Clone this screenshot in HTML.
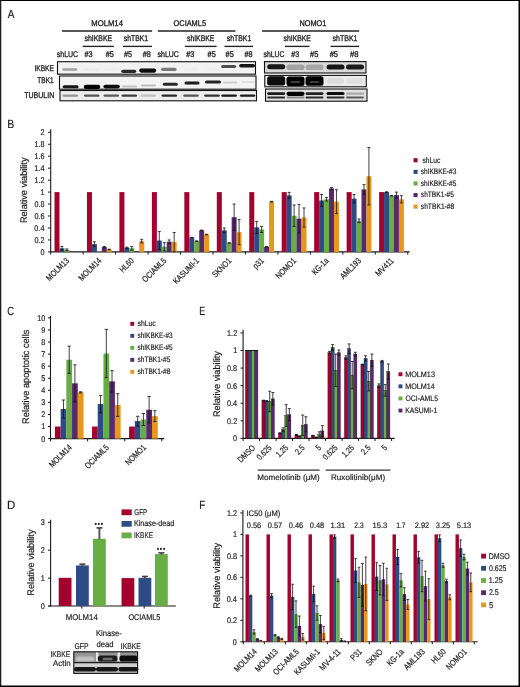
<!DOCTYPE html><html><head><meta charset="utf-8"><style>html,body{margin:0;padding:0;background:#fff;}svg{display:block;will-change:transform;}text{text-rendering:geometricPrecision;font-family:"Liberation Sans",sans-serif;fill:#1a1a1a;stroke:#222;stroke-width:0.18px;}.bA text{stroke-width:0.32px;}</style></head><body>
<svg width="520" height="687" viewBox="0 0 520 687">
<defs><filter id="bl1" x="-50%" y="-50%" width="200%" height="200%"><feGaussianBlur stdDeviation="0.9"/></filter><filter id="bl2" x="-50%" y="-50%" width="200%" height="200%"><feGaussianBlur stdDeviation="1.3"/></filter><filter id="bl05" x="-50%" y="-50%" width="200%" height="200%"><feGaussianBlur stdDeviation="0.5"/></filter><filter id="bl07" x="-50%" y="-50%" width="200%" height="200%"><feGaussianBlur stdDeviation="0.7"/></filter></defs>
<rect x="0" y="0" width="520" height="687" fill="#fff"/>
<text x="7.68" y="17.5" font-size="11.8" textLength="6.64" lengthAdjust="spacingAndGlyphs">A</text>
<text x="7.14" y="127.9" font-size="11.8" textLength="7.02" lengthAdjust="spacingAndGlyphs">B</text>
<text x="7.32" y="315" font-size="11.8" textLength="6.84" lengthAdjust="spacingAndGlyphs">C</text>
<text x="199.27" y="315.1" font-size="11.8" textLength="5.91" lengthAdjust="spacingAndGlyphs">E</text>
<text x="7.06" y="508.8" font-size="11.8" textLength="8.29" lengthAdjust="spacingAndGlyphs">D</text>
<text x="199.19" y="508.8" font-size="11.8" textLength="6" lengthAdjust="spacingAndGlyphs">F</text>
<g class="bA">
<text x="91.27" y="25.7" font-size="8.3" textLength="31.66" lengthAdjust="spacingAndGlyphs">MOLM14</text>
<text x="173.55" y="25.7" font-size="8.3" textLength="32.46" lengthAdjust="spacingAndGlyphs">OCIAML5</text>
<text x="299.4" y="26" font-size="8.3" textLength="26.96" lengthAdjust="spacingAndGlyphs">NOMO1</text>
<line x1="61.9" y1="31" x2="152.1" y2="31" stroke="#222" stroke-width="1.35"/>
<line x1="157.8" y1="31" x2="235.4" y2="31" stroke="#222" stroke-width="1.35"/>
<line x1="262" y1="31" x2="359.2" y2="31" stroke="#222" stroke-width="1.35"/>
<text x="84.41" y="41.2" font-size="8.3" textLength="27.79" lengthAdjust="spacingAndGlyphs">shIKBKE</text>
<text x="123.81" y="41.2" font-size="8.3" textLength="24.22" lengthAdjust="spacingAndGlyphs">shTBK1</text>
<text x="187.01" y="41.2" font-size="8.3" textLength="27.38" lengthAdjust="spacingAndGlyphs">shIKBKE</text>
<text x="226.71" y="41.2" font-size="8.3" textLength="24.63" lengthAdjust="spacingAndGlyphs">shTBK1</text>
<text x="283.61" y="41.2" font-size="8.3" textLength="27.28" lengthAdjust="spacingAndGlyphs">shIKBKE</text>
<text x="332.61" y="41.2" font-size="8.3" textLength="24.84" lengthAdjust="spacingAndGlyphs">shTBK1</text>
<line x1="82.7" y1="46.4" x2="113.8" y2="46.4" stroke="#222" stroke-width="1.35"/>
<line x1="123" y1="46.4" x2="152" y2="46.4" stroke="#222" stroke-width="1.35"/>
<line x1="185.1" y1="46.4" x2="216.6" y2="46.4" stroke="#222" stroke-width="1.35"/>
<line x1="224.4" y1="46.4" x2="253" y2="46.4" stroke="#222" stroke-width="1.35"/>
<line x1="285" y1="46.4" x2="309.5" y2="46.4" stroke="#222" stroke-width="1.35"/>
<line x1="330.5" y1="46.4" x2="359.2" y2="46.4" stroke="#222" stroke-width="1.35"/>
<text x="56.81" y="56.8" font-size="8.3" textLength="21.36" lengthAdjust="spacingAndGlyphs">shLUC</text>
<text x="84.57" y="56.8" font-size="8.3" textLength="8.05" lengthAdjust="spacingAndGlyphs">#3</text>
<text x="105.77" y="56.8" font-size="8.3" textLength="8.04" lengthAdjust="spacingAndGlyphs">#5</text>
<text x="123.97" y="56.8" font-size="8.3" textLength="8.04" lengthAdjust="spacingAndGlyphs">#5</text>
<text x="142.67" y="56.8" font-size="8.3" textLength="8.05" lengthAdjust="spacingAndGlyphs">#8</text>
<text x="157.61" y="56.8" font-size="8.3" textLength="21.16" lengthAdjust="spacingAndGlyphs">shLUC</text>
<text x="186.27" y="56.8" font-size="8.3" textLength="8.15" lengthAdjust="spacingAndGlyphs">#3</text>
<text x="207.57" y="56.8" font-size="8.3" textLength="8.14" lengthAdjust="spacingAndGlyphs">#5</text>
<text x="225.57" y="56.8" font-size="8.3" textLength="8.14" lengthAdjust="spacingAndGlyphs">#5</text>
<text x="244.57" y="56.8" font-size="8.3" textLength="8.05" lengthAdjust="spacingAndGlyphs">#8</text>
<text x="263.61" y="56.8" font-size="8.3" textLength="20.85" lengthAdjust="spacingAndGlyphs">shLUC</text>
<text x="291.17" y="56.8" font-size="8.3" textLength="7.95" lengthAdjust="spacingAndGlyphs">#3</text>
<text x="309.97" y="56.8" font-size="8.3" textLength="8.35" lengthAdjust="spacingAndGlyphs">#5</text>
<text x="329.67" y="56.8" font-size="8.3" textLength="8.35" lengthAdjust="spacingAndGlyphs">#5</text>
<text x="349.97" y="56.8" font-size="8.3" textLength="8.57" lengthAdjust="spacingAndGlyphs">#8</text>
<text x="34.39" y="70.8" font-size="8.3" textLength="19.6" lengthAdjust="spacingAndGlyphs">IKBKE</text>
<text x="37.35" y="83.1" font-size="8.3" textLength="16.26" lengthAdjust="spacingAndGlyphs">TBK1</text>
<text x="24.14" y="97.6" font-size="8.3" textLength="30.13" lengthAdjust="spacingAndGlyphs">TUBULIN</text>
</g>
<rect x="57.5" y="61.7" width="198" height="12.5" fill="#f2f2f2"/>
<rect x="59.5" y="76" width="196.5" height="13.2" fill="#f3f3f3"/>
<rect x="60" y="90.5" width="196.5" height="10.3" fill="#ededed"/>
<rect x="62.3" y="68.2" width="15" height="2.6" rx="1.3" fill="#a0a0a0" opacity="1" filter="url(#bl05)"/>
<rect x="84.2" y="68" width="14" height="3" rx="1.5" fill="#ececec" opacity="1" filter="url(#bl05)"/>
<rect x="103.8" y="68" width="14" height="3" rx="1.5" fill="#efefef" opacity="1" filter="url(#bl05)"/>
<rect x="121.3" y="69.7" width="15" height="3.2" rx="1.6" fill="#2a2a2a" opacity="1" filter="url(#bl05)"/>
<rect x="139.2" y="68.5" width="17" height="4.2" rx="2.1" fill="#0a0a0a" opacity="1" filter="url(#bl05)"/>
<rect x="161.05" y="67.7" width="15.5" height="3.2" rx="1.6" fill="#7a7a7a" opacity="1" filter="url(#bl05)"/>
<rect x="183.5" y="67.5" width="14" height="3" rx="1.5" fill="#ededed" opacity="1" filter="url(#bl05)"/>
<rect x="204.5" y="67.5" width="14" height="3" rx="1.5" fill="#f0f0f0" opacity="1" filter="url(#bl05)"/>
<rect x="221.1" y="65.1" width="15" height="3" rx="1.5" fill="#505050" opacity="1" filter="url(#bl05)"/>
<rect x="239.1" y="64" width="16" height="3.6" rx="1.8" fill="#161616" opacity="1" filter="url(#bl05)"/>
<rect x="62.6" y="85.3" width="16" height="3" rx="1.5" fill="#141414" opacity="1" filter="url(#bl05)"/>
<rect x="83.75" y="84.8" width="16.5" height="4.2" rx="2.1" fill="#000" opacity="1" filter="url(#bl05)"/>
<rect x="103.35" y="84.8" width="16.5" height="3.6" rx="1.8" fill="#0e0e0e" opacity="1" filter="url(#bl05)"/>
<rect x="122.1" y="85.6" width="15" height="2" rx="1" fill="#c4c4c4" opacity="1" filter="url(#bl05)"/>
<rect x="141" y="84.6" width="15" height="2" rx="1" fill="#bdbdbd" opacity="1" filter="url(#bl05)"/>
<rect x="162.8" y="82.8" width="15" height="3" rx="1.5" fill="#262626" opacity="1" filter="url(#bl05)"/>
<rect x="184.5" y="81.5" width="15" height="3" rx="1.5" fill="#1c1c1c" opacity="1" filter="url(#bl05)"/>
<rect x="205" y="80.5" width="16" height="3" rx="1.5" fill="#222" opacity="1" filter="url(#bl05)"/>
<rect x="223.1" y="81.4" width="14" height="2" rx="1" fill="#cdcdcd" opacity="1" filter="url(#bl05)"/>
<rect x="241.6" y="81" width="14" height="2" rx="1" fill="#e0e0e0" opacity="1" filter="url(#bl05)"/>
<rect x="62.55" y="94.4" width="15.5" height="2.4" rx="1.2" fill="#959595" opacity="1" filter="url(#bl05)"/>
<rect x="83.95" y="94.4" width="15.5" height="2.4" rx="1.2" fill="#555" opacity="1" filter="url(#bl05)"/>
<rect x="103.55" y="94.4" width="15.5" height="2.4" rx="1.2" fill="#5a5a5a" opacity="1" filter="url(#bl05)"/>
<rect x="121.55" y="94.4" width="15.5" height="2.4" rx="1.2" fill="#3c3c3c" opacity="1" filter="url(#bl05)"/>
<rect x="140.45" y="94.4" width="15.5" height="2.4" rx="1.2" fill="#c0c0c0" opacity="1" filter="url(#bl05)"/>
<rect x="161.55" y="94.4" width="15.5" height="2.4" rx="1.2" fill="#2c2c2c" opacity="1" filter="url(#bl05)"/>
<rect x="183.25" y="94.4" width="15.5" height="2.4" rx="1.2" fill="#555" opacity="1" filter="url(#bl05)"/>
<rect x="204.25" y="94.4" width="15.5" height="2.4" rx="1.2" fill="#303030" opacity="1" filter="url(#bl05)"/>
<rect x="221.35" y="94.4" width="15.5" height="2.4" rx="1.2" fill="#141414" opacity="1" filter="url(#bl05)"/>
<rect x="239.85" y="94.4" width="15.5" height="2.4" rx="1.2" fill="#1e1e1e" opacity="1" filter="url(#bl05)"/>
<rect x="57.5" y="61.7" width="198" height="12.5" fill="none" stroke="#111" stroke-width="1.1"/>
<rect x="59.5" y="76" width="196.5" height="13.2" fill="none" stroke="#111" stroke-width="1.1"/>
<rect x="60" y="90.5" width="196.5" height="10.3" fill="none" stroke="#111" stroke-width="1.1"/>
<rect x="264.5" y="61.6" width="101.5" height="11.4" fill="#d9d9d9"/>
<rect x="264.8" y="75.4" width="101.5" height="11.4" fill="#ececec"/>
<rect x="265.5" y="89" width="101.5" height="12.2" fill="#e0e0e0"/>
<rect x="267.2" y="64.3" width="18" height="5" rx="2.5" fill="#141414" opacity="1" filter="url(#bl07)"/>
<rect x="286.5" y="64.4" width="18" height="5.6" rx="2.5" fill="#a4a4a4" opacity="1" filter="url(#bl07)"/>
<rect x="305.5" y="64.4" width="18" height="5.6" rx="2.5" fill="#a8a8a8" opacity="1" filter="url(#bl07)"/>
<rect x="326.5" y="64.4" width="18" height="5" rx="2.5" fill="#161616" opacity="1" filter="url(#bl07)"/>
<rect x="346" y="64.4" width="18" height="5" rx="2.5" fill="#1a1a1a" opacity="1" filter="url(#bl07)"/>
<rect x="267.2" y="76.2" width="18" height="9.4" rx="2.5" fill="#080808" opacity="1" filter="url(#bl07)"/>
<rect x="286.5" y="76.4" width="18" height="9.6" rx="2.5" fill="#000" opacity="1" filter="url(#bl07)"/>
<rect x="305.5" y="76.2" width="18" height="9.6" rx="2.5" fill="#000" opacity="1" filter="url(#bl07)"/>
<rect x="327" y="78" width="17" height="6" rx="2.5" fill="#dcdcdc" opacity="1" filter="url(#bl07)"/>
<rect x="346.5" y="78" width="17" height="6" rx="2.5" fill="#e0e0e0" opacity="1" filter="url(#bl07)"/>
<rect x="290.5" y="81.1" width="10" height="1.8" rx="0.9" fill="#3a3a3a" opacity="1" filter="url(#bl07)"/>
<rect x="309.5" y="81.1" width="10" height="1.8" rx="0.9" fill="#3a3a3a" opacity="1" filter="url(#bl07)"/>
<rect x="267.2" y="92.3" width="18" height="2.6" rx="1.3" fill="#1a1a1a" opacity="1" filter="url(#bl05)"/>
<rect x="267.2" y="96.4" width="18" height="2.2" rx="1.1" fill="#2a2a2a" opacity="1" filter="url(#bl05)"/>
<rect x="286.5" y="91.7" width="18" height="4.2" rx="2.1" fill="#050505" opacity="1" filter="url(#bl05)"/>
<rect x="286.5" y="96.4" width="18" height="2.2" rx="1.1" fill="#8a8a8a" opacity="1" filter="url(#bl05)"/>
<rect x="305.5" y="92.2" width="18" height="2.8" rx="1.4" fill="#222" opacity="1" filter="url(#bl05)"/>
<rect x="305.5" y="96.4" width="18" height="2.2" rx="1.1" fill="#2a2a2a" opacity="1" filter="url(#bl05)"/>
<rect x="326.5" y="92.1" width="18" height="3" rx="1.5" fill="#0c0c0c" opacity="1" filter="url(#bl05)"/>
<rect x="326.5" y="96.4" width="18" height="2.2" rx="1.1" fill="#2a2a2a" opacity="1" filter="url(#bl05)"/>
<rect x="346" y="92.4" width="18" height="2.4" rx="1.2" fill="#a8a8a8" opacity="1" filter="url(#bl05)"/>
<rect x="346" y="96.4" width="18" height="2.2" rx="1.1" fill="#5a5a5a" opacity="1" filter="url(#bl05)"/>
<rect x="264.5" y="61.6" width="101.5" height="11.4" fill="none" stroke="#111" stroke-width="1.1"/>
<rect x="264.8" y="75.4" width="101.5" height="11.4" fill="none" stroke="#111" stroke-width="1.1"/>
<rect x="265.5" y="89" width="101.5" height="12.2" fill="none" stroke="#111" stroke-width="1.1"/>
<line x1="50.7" y1="129.2" x2="50.7" y2="252.4" stroke="#1a1a1a" stroke-width="1.1"/>
<line x1="50.2" y1="251.9" x2="409.6" y2="251.9" stroke="#1a1a1a" stroke-width="1.1"/>
<line x1="48" y1="251.9" x2="50.7" y2="251.9" stroke="#1a1a1a" stroke-width="1"/>
<text x="40.47" y="254.8" font-size="8.3" textLength="4.02" lengthAdjust="spacingAndGlyphs">0</text>
<line x1="48" y1="239.94" x2="50.7" y2="239.94" stroke="#1a1a1a" stroke-width="1"/>
<text x="34.52" y="242.84" font-size="8.3" textLength="10.04" lengthAdjust="spacingAndGlyphs">0.2</text>
<line x1="48" y1="227.98" x2="50.7" y2="227.98" stroke="#1a1a1a" stroke-width="1"/>
<text x="34.37" y="230.88" font-size="8.3" textLength="10.04" lengthAdjust="spacingAndGlyphs">0.4</text>
<line x1="48" y1="216.02" x2="50.7" y2="216.02" stroke="#1a1a1a" stroke-width="1"/>
<text x="34.48" y="218.92" font-size="8.3" textLength="10.04" lengthAdjust="spacingAndGlyphs">0.6</text>
<line x1="48" y1="204.06" x2="50.7" y2="204.06" stroke="#1a1a1a" stroke-width="1"/>
<text x="34.48" y="206.96" font-size="8.3" textLength="10.04" lengthAdjust="spacingAndGlyphs">0.8</text>
<line x1="48" y1="192.1" x2="50.7" y2="192.1" stroke="#1a1a1a" stroke-width="1"/>
<text x="40.54" y="195" font-size="8.3" textLength="4.02" lengthAdjust="spacingAndGlyphs">1</text>
<line x1="48" y1="180.14" x2="50.7" y2="180.14" stroke="#1a1a1a" stroke-width="1"/>
<text x="34.52" y="183.04" font-size="8.3" textLength="10.04" lengthAdjust="spacingAndGlyphs">1.2</text>
<line x1="48" y1="168.18" x2="50.7" y2="168.18" stroke="#1a1a1a" stroke-width="1"/>
<text x="34.37" y="171.08" font-size="8.3" textLength="10.04" lengthAdjust="spacingAndGlyphs">1.4</text>
<line x1="48" y1="156.22" x2="50.7" y2="156.22" stroke="#1a1a1a" stroke-width="1"/>
<text x="34.48" y="159.12" font-size="8.3" textLength="10.04" lengthAdjust="spacingAndGlyphs">1.6</text>
<line x1="48" y1="144.26" x2="50.7" y2="144.26" stroke="#1a1a1a" stroke-width="1"/>
<text x="34.48" y="147.16" font-size="8.3" textLength="10.04" lengthAdjust="spacingAndGlyphs">1.8</text>
<line x1="48" y1="132.3" x2="50.7" y2="132.3" stroke="#1a1a1a" stroke-width="1"/>
<text x="40.55" y="135.2" font-size="8.3" textLength="4.02" lengthAdjust="spacingAndGlyphs">2</text>
<line x1="50.7" y1="251.9" x2="50.7" y2="254.6" stroke="#1a1a1a" stroke-width="1"/>
<line x1="83.16" y1="251.9" x2="83.16" y2="254.6" stroke="#1a1a1a" stroke-width="1"/>
<line x1="115.62" y1="251.9" x2="115.62" y2="254.6" stroke="#1a1a1a" stroke-width="1"/>
<line x1="148.08" y1="251.9" x2="148.08" y2="254.6" stroke="#1a1a1a" stroke-width="1"/>
<line x1="180.54" y1="251.9" x2="180.54" y2="254.6" stroke="#1a1a1a" stroke-width="1"/>
<line x1="213" y1="251.9" x2="213" y2="254.6" stroke="#1a1a1a" stroke-width="1"/>
<line x1="245.46" y1="251.9" x2="245.46" y2="254.6" stroke="#1a1a1a" stroke-width="1"/>
<line x1="277.92" y1="251.9" x2="277.92" y2="254.6" stroke="#1a1a1a" stroke-width="1"/>
<line x1="310.38" y1="251.9" x2="310.38" y2="254.6" stroke="#1a1a1a" stroke-width="1"/>
<line x1="342.84" y1="251.9" x2="342.84" y2="254.6" stroke="#1a1a1a" stroke-width="1"/>
<line x1="375.3" y1="251.9" x2="375.3" y2="254.6" stroke="#1a1a1a" stroke-width="1"/>
<line x1="407.76" y1="251.9" x2="407.76" y2="254.6" stroke="#1a1a1a" stroke-width="1"/>
<rect x="54.5" y="192.1" width="5" height="59.8" fill="#a3022e"/>
<rect x="59.45" y="248.31" width="5" height="3.59" fill="#2d4c84"/>
<rect x="64.4" y="249.81" width="5" height="2.09" fill="#69ad45"/>
<rect x="69.35" y="251.66" width="5" height="0.24" fill="#59286e"/>
<line x1="61.93" y1="246.52" x2="61.93" y2="250.11" stroke="#111" stroke-width="0.8"/>
<line x1="60.43" y1="246.52" x2="63.43" y2="246.52" stroke="#111" stroke-width="0.8"/>
<line x1="60.43" y1="250.11" x2="63.43" y2="250.11" stroke="#111" stroke-width="0.8"/>
<line x1="66.88" y1="248.91" x2="66.88" y2="250.7" stroke="#111" stroke-width="0.8"/>
<line x1="65.38" y1="248.91" x2="68.38" y2="248.91" stroke="#111" stroke-width="0.8"/>
<line x1="65.38" y1="250.7" x2="68.38" y2="250.7" stroke="#111" stroke-width="0.8"/>
<text x="69.6" y="261.4" font-size="8.6" text-anchor="end" textLength="28.29" lengthAdjust="spacingAndGlyphs" transform="rotate(-45 69.6 261.4)">MOLM13</text>
<rect x="86.96" y="192.1" width="5" height="59.8" fill="#a3022e"/>
<rect x="91.91" y="244.13" width="5" height="7.77" fill="#2d4c84"/>
<rect x="96.86" y="251.3" width="5" height="0.6" fill="#69ad45"/>
<rect x="101.81" y="247.12" width="5" height="4.78" fill="#59286e"/>
<rect x="106.76" y="249.51" width="5" height="2.39" fill="#e9971c"/>
<line x1="94.38" y1="241.73" x2="94.38" y2="246.52" stroke="#111" stroke-width="0.8"/>
<line x1="92.88" y1="241.73" x2="95.88" y2="241.73" stroke="#111" stroke-width="0.8"/>
<line x1="92.88" y1="246.52" x2="95.88" y2="246.52" stroke="#111" stroke-width="0.8"/>
<line x1="104.28" y1="246.52" x2="104.28" y2="247.71" stroke="#111" stroke-width="0.8"/>
<line x1="102.78" y1="246.52" x2="105.78" y2="246.52" stroke="#111" stroke-width="0.8"/>
<line x1="102.78" y1="247.71" x2="105.78" y2="247.71" stroke="#111" stroke-width="0.8"/>
<line x1="109.23" y1="249.21" x2="109.23" y2="249.81" stroke="#111" stroke-width="0.8"/>
<line x1="107.73" y1="249.21" x2="110.73" y2="249.21" stroke="#111" stroke-width="0.8"/>
<line x1="107.73" y1="249.81" x2="110.73" y2="249.81" stroke="#111" stroke-width="0.8"/>
<text x="102.06" y="261.4" font-size="8.6" text-anchor="end" textLength="28.29" lengthAdjust="spacingAndGlyphs" transform="rotate(-45 102.06 261.4)">MOLM14</text>
<rect x="119.42" y="192.1" width="5" height="59.8" fill="#a3022e"/>
<rect x="124.37" y="247.71" width="5" height="4.19" fill="#2d4c84"/>
<rect x="129.32" y="248.31" width="5" height="3.59" fill="#69ad45"/>
<rect x="134.27" y="251.3" width="5" height="0.6" fill="#59286e"/>
<rect x="139.22" y="241.14" width="5" height="10.76" fill="#e9971c"/>
<line x1="126.84" y1="247.12" x2="126.84" y2="248.31" stroke="#111" stroke-width="0.8"/>
<line x1="125.34" y1="247.12" x2="128.34" y2="247.12" stroke="#111" stroke-width="0.8"/>
<line x1="125.34" y1="248.31" x2="128.34" y2="248.31" stroke="#111" stroke-width="0.8"/>
<line x1="131.79" y1="246.52" x2="131.79" y2="250.11" stroke="#111" stroke-width="0.8"/>
<line x1="130.29" y1="246.52" x2="133.29" y2="246.52" stroke="#111" stroke-width="0.8"/>
<line x1="130.29" y1="250.11" x2="133.29" y2="250.11" stroke="#111" stroke-width="0.8"/>
<line x1="141.69" y1="239.34" x2="141.69" y2="242.93" stroke="#111" stroke-width="0.8"/>
<line x1="140.19" y1="239.34" x2="143.19" y2="239.34" stroke="#111" stroke-width="0.8"/>
<line x1="140.19" y1="242.93" x2="143.19" y2="242.93" stroke="#111" stroke-width="0.8"/>
<text x="134.52" y="261.4" font-size="8.6" text-anchor="end" textLength="16.45" lengthAdjust="spacingAndGlyphs" transform="rotate(-45 134.52 261.4)">HL60</text>
<rect x="151.88" y="192.1" width="5" height="59.8" fill="#a3022e"/>
<rect x="156.83" y="240.54" width="5" height="11.36" fill="#2d4c84"/>
<rect x="161.78" y="246.82" width="5" height="5.08" fill="#69ad45"/>
<rect x="166.73" y="241.73" width="5" height="10.17" fill="#59286e"/>
<rect x="171.68" y="242.03" width="5" height="9.87" fill="#e9971c"/>
<line x1="159.3" y1="231.57" x2="159.3" y2="249.51" stroke="#111" stroke-width="0.8"/>
<line x1="157.8" y1="231.57" x2="160.8" y2="231.57" stroke="#111" stroke-width="0.8"/>
<line x1="157.8" y1="249.51" x2="160.8" y2="249.51" stroke="#111" stroke-width="0.8"/>
<line x1="164.25" y1="242.63" x2="164.25" y2="251" stroke="#111" stroke-width="0.8"/>
<line x1="162.75" y1="242.63" x2="165.75" y2="242.63" stroke="#111" stroke-width="0.8"/>
<line x1="162.75" y1="251" x2="165.75" y2="251" stroke="#111" stroke-width="0.8"/>
<line x1="169.2" y1="239.94" x2="169.2" y2="243.53" stroke="#111" stroke-width="0.8"/>
<line x1="167.7" y1="239.94" x2="170.7" y2="239.94" stroke="#111" stroke-width="0.8"/>
<line x1="167.7" y1="243.53" x2="170.7" y2="243.53" stroke="#111" stroke-width="0.8"/>
<line x1="174.16" y1="232.47" x2="174.16" y2="251.6" stroke="#111" stroke-width="0.8"/>
<line x1="172.66" y1="232.47" x2="175.66" y2="232.47" stroke="#111" stroke-width="0.8"/>
<line x1="172.66" y1="251.6" x2="175.66" y2="251.6" stroke="#111" stroke-width="0.8"/>
<text x="166.98" y="261.4" font-size="8.6" text-anchor="end" textLength="30.2" lengthAdjust="spacingAndGlyphs" transform="rotate(-45 166.98 261.4)">OCIAML5</text>
<rect x="184.34" y="192.1" width="5" height="59.8" fill="#a3022e"/>
<rect x="189.29" y="237.55" width="5" height="14.35" fill="#2d4c84"/>
<rect x="194.24" y="241.14" width="5" height="10.76" fill="#69ad45"/>
<rect x="199.19" y="230.37" width="5" height="21.53" fill="#59286e"/>
<rect x="204.14" y="234.56" width="5" height="17.34" fill="#e9971c"/>
<line x1="191.77" y1="237.25" x2="191.77" y2="237.85" stroke="#111" stroke-width="0.8"/>
<line x1="190.27" y1="237.25" x2="193.27" y2="237.25" stroke="#111" stroke-width="0.8"/>
<line x1="190.27" y1="237.85" x2="193.27" y2="237.85" stroke="#111" stroke-width="0.8"/>
<line x1="196.72" y1="240.84" x2="196.72" y2="241.44" stroke="#111" stroke-width="0.8"/>
<line x1="195.22" y1="240.84" x2="198.22" y2="240.84" stroke="#111" stroke-width="0.8"/>
<line x1="195.22" y1="241.44" x2="198.22" y2="241.44" stroke="#111" stroke-width="0.8"/>
<line x1="201.67" y1="230.07" x2="201.67" y2="230.67" stroke="#111" stroke-width="0.8"/>
<line x1="200.17" y1="230.07" x2="203.17" y2="230.07" stroke="#111" stroke-width="0.8"/>
<line x1="200.17" y1="230.67" x2="203.17" y2="230.67" stroke="#111" stroke-width="0.8"/>
<line x1="206.62" y1="234.26" x2="206.62" y2="234.86" stroke="#111" stroke-width="0.8"/>
<line x1="205.12" y1="234.26" x2="208.12" y2="234.26" stroke="#111" stroke-width="0.8"/>
<line x1="205.12" y1="234.86" x2="208.12" y2="234.86" stroke="#111" stroke-width="0.8"/>
<text x="199.44" y="261.4" font-size="8.6" text-anchor="end" textLength="32.5" lengthAdjust="spacingAndGlyphs" transform="rotate(-45 199.44 261.4)">KASUMI-1</text>
<rect x="216.8" y="192.1" width="5" height="59.8" fill="#a3022e"/>
<rect x="221.75" y="230.37" width="5" height="21.53" fill="#2d4c84"/>
<rect x="226.7" y="242.93" width="5" height="8.97" fill="#69ad45"/>
<rect x="231.65" y="217.22" width="5" height="34.68" fill="#59286e"/>
<rect x="236.6" y="232.17" width="5" height="19.73" fill="#e9971c"/>
<line x1="224.22" y1="227.98" x2="224.22" y2="232.76" stroke="#111" stroke-width="0.8"/>
<line x1="222.72" y1="227.98" x2="225.72" y2="227.98" stroke="#111" stroke-width="0.8"/>
<line x1="222.72" y1="232.76" x2="225.72" y2="232.76" stroke="#111" stroke-width="0.8"/>
<line x1="229.18" y1="242.63" x2="229.18" y2="243.23" stroke="#111" stroke-width="0.8"/>
<line x1="227.68" y1="242.63" x2="230.68" y2="242.63" stroke="#111" stroke-width="0.8"/>
<line x1="227.68" y1="243.23" x2="230.68" y2="243.23" stroke="#111" stroke-width="0.8"/>
<line x1="234.12" y1="204.06" x2="234.12" y2="230.37" stroke="#111" stroke-width="0.8"/>
<line x1="232.62" y1="204.06" x2="235.62" y2="204.06" stroke="#111" stroke-width="0.8"/>
<line x1="232.62" y1="230.37" x2="235.62" y2="230.37" stroke="#111" stroke-width="0.8"/>
<line x1="239.08" y1="219.61" x2="239.08" y2="244.72" stroke="#111" stroke-width="0.8"/>
<line x1="237.58" y1="219.61" x2="240.58" y2="219.61" stroke="#111" stroke-width="0.8"/>
<line x1="237.58" y1="244.72" x2="240.58" y2="244.72" stroke="#111" stroke-width="0.8"/>
<text x="231.9" y="261.4" font-size="8.6" text-anchor="end" textLength="23.32" lengthAdjust="spacingAndGlyphs" transform="rotate(-45 231.9 261.4)">SKNO1</text>
<rect x="249.26" y="192.1" width="5" height="59.8" fill="#a3022e"/>
<rect x="254.21" y="227.38" width="5" height="24.52" fill="#2d4c84"/>
<rect x="259.16" y="229.48" width="5" height="22.42" fill="#69ad45"/>
<rect x="264.11" y="246.82" width="5" height="5.08" fill="#59286e"/>
<rect x="269.06" y="201.67" width="5" height="50.23" fill="#e9971c"/>
<line x1="256.69" y1="221.4" x2="256.69" y2="233.36" stroke="#111" stroke-width="0.8"/>
<line x1="255.19" y1="221.4" x2="258.19" y2="221.4" stroke="#111" stroke-width="0.8"/>
<line x1="255.19" y1="233.36" x2="258.19" y2="233.36" stroke="#111" stroke-width="0.8"/>
<line x1="261.63" y1="226.49" x2="261.63" y2="232.47" stroke="#111" stroke-width="0.8"/>
<line x1="260.13" y1="226.49" x2="263.13" y2="226.49" stroke="#111" stroke-width="0.8"/>
<line x1="260.13" y1="232.47" x2="263.13" y2="232.47" stroke="#111" stroke-width="0.8"/>
<line x1="266.59" y1="246.52" x2="266.59" y2="247.12" stroke="#111" stroke-width="0.8"/>
<line x1="265.09" y1="246.52" x2="268.09" y2="246.52" stroke="#111" stroke-width="0.8"/>
<line x1="265.09" y1="247.12" x2="268.09" y2="247.12" stroke="#111" stroke-width="0.8"/>
<line x1="271.54" y1="201.37" x2="271.54" y2="201.97" stroke="#111" stroke-width="0.8"/>
<line x1="270.04" y1="201.37" x2="273.04" y2="201.37" stroke="#111" stroke-width="0.8"/>
<line x1="270.04" y1="201.97" x2="273.04" y2="201.97" stroke="#111" stroke-width="0.8"/>
<text x="264.36" y="261.4" font-size="8.6" text-anchor="end" textLength="11.48" lengthAdjust="spacingAndGlyphs" transform="rotate(-45 264.36 261.4)">p31</text>
<rect x="281.72" y="192.1" width="5" height="59.8" fill="#a3022e"/>
<rect x="286.67" y="195.39" width="5" height="56.51" fill="#2d4c84"/>
<rect x="291.62" y="215.72" width="5" height="36.18" fill="#69ad45"/>
<rect x="296.57" y="218.71" width="5" height="33.19" fill="#59286e"/>
<rect x="301.52" y="217.52" width="5" height="34.38" fill="#e9971c"/>
<line x1="289.15" y1="192.4" x2="289.15" y2="198.38" stroke="#111" stroke-width="0.8"/>
<line x1="287.65" y1="192.4" x2="290.65" y2="192.4" stroke="#111" stroke-width="0.8"/>
<line x1="287.65" y1="198.38" x2="290.65" y2="198.38" stroke="#111" stroke-width="0.8"/>
<line x1="294.1" y1="204.96" x2="294.1" y2="226.49" stroke="#111" stroke-width="0.8"/>
<line x1="292.6" y1="204.96" x2="295.6" y2="204.96" stroke="#111" stroke-width="0.8"/>
<line x1="292.6" y1="226.49" x2="295.6" y2="226.49" stroke="#111" stroke-width="0.8"/>
<line x1="299.05" y1="204.36" x2="299.05" y2="233.06" stroke="#111" stroke-width="0.8"/>
<line x1="297.55" y1="204.36" x2="300.55" y2="204.36" stroke="#111" stroke-width="0.8"/>
<line x1="297.55" y1="233.06" x2="300.55" y2="233.06" stroke="#111" stroke-width="0.8"/>
<line x1="304" y1="207.95" x2="304" y2="227.08" stroke="#111" stroke-width="0.8"/>
<line x1="302.5" y1="207.95" x2="305.5" y2="207.95" stroke="#111" stroke-width="0.8"/>
<line x1="302.5" y1="227.08" x2="305.5" y2="227.08" stroke="#111" stroke-width="0.8"/>
<text x="296.82" y="261.4" font-size="8.6" text-anchor="end" textLength="25.23" lengthAdjust="spacingAndGlyphs" transform="rotate(-45 296.82 261.4)">NOMO1</text>
<rect x="314.18" y="192.1" width="5" height="59.8" fill="#a3022e"/>
<rect x="319.13" y="200.47" width="5" height="51.43" fill="#2d4c84"/>
<rect x="324.08" y="199.28" width="5" height="52.62" fill="#69ad45"/>
<rect x="329.03" y="188.51" width="5" height="63.39" fill="#59286e"/>
<rect x="333.98" y="201.67" width="5" height="50.23" fill="#e9971c"/>
<line x1="321.61" y1="194.49" x2="321.61" y2="206.45" stroke="#111" stroke-width="0.8"/>
<line x1="320.11" y1="194.49" x2="323.11" y2="194.49" stroke="#111" stroke-width="0.8"/>
<line x1="320.11" y1="206.45" x2="323.11" y2="206.45" stroke="#111" stroke-width="0.8"/>
<line x1="326.56" y1="197.48" x2="326.56" y2="201.07" stroke="#111" stroke-width="0.8"/>
<line x1="325.06" y1="197.48" x2="328.06" y2="197.48" stroke="#111" stroke-width="0.8"/>
<line x1="325.06" y1="201.07" x2="328.06" y2="201.07" stroke="#111" stroke-width="0.8"/>
<line x1="331.51" y1="187.62" x2="331.51" y2="189.41" stroke="#111" stroke-width="0.8"/>
<line x1="330.01" y1="187.62" x2="333.01" y2="187.62" stroke="#111" stroke-width="0.8"/>
<line x1="330.01" y1="189.41" x2="333.01" y2="189.41" stroke="#111" stroke-width="0.8"/>
<line x1="336.46" y1="189.71" x2="336.46" y2="213.63" stroke="#111" stroke-width="0.8"/>
<line x1="334.96" y1="189.71" x2="337.96" y2="189.71" stroke="#111" stroke-width="0.8"/>
<line x1="334.96" y1="213.63" x2="337.96" y2="213.63" stroke="#111" stroke-width="0.8"/>
<text x="329.28" y="261.4" font-size="8.6" text-anchor="end" textLength="19.88" lengthAdjust="spacingAndGlyphs" transform="rotate(-45 329.28 261.4)">KG-1a</text>
<rect x="346.64" y="192.1" width="5" height="59.8" fill="#a3022e"/>
<rect x="351.59" y="198.68" width="5" height="53.22" fill="#2d4c84"/>
<rect x="356.54" y="220.8" width="5" height="31.1" fill="#69ad45"/>
<rect x="361.49" y="189.41" width="5" height="62.49" fill="#59286e"/>
<rect x="366.44" y="176.25" width="5" height="75.65" fill="#e9971c"/>
<line x1="354.06" y1="194.49" x2="354.06" y2="202.86" stroke="#111" stroke-width="0.8"/>
<line x1="352.56" y1="194.49" x2="355.56" y2="194.49" stroke="#111" stroke-width="0.8"/>
<line x1="352.56" y1="202.86" x2="355.56" y2="202.86" stroke="#111" stroke-width="0.8"/>
<line x1="359.01" y1="219.01" x2="359.01" y2="222.6" stroke="#111" stroke-width="0.8"/>
<line x1="357.51" y1="219.01" x2="360.51" y2="219.01" stroke="#111" stroke-width="0.8"/>
<line x1="357.51" y1="222.6" x2="360.51" y2="222.6" stroke="#111" stroke-width="0.8"/>
<line x1="363.97" y1="184.62" x2="363.97" y2="194.19" stroke="#111" stroke-width="0.8"/>
<line x1="362.47" y1="184.62" x2="365.47" y2="184.62" stroke="#111" stroke-width="0.8"/>
<line x1="362.47" y1="194.19" x2="365.47" y2="194.19" stroke="#111" stroke-width="0.8"/>
<line x1="368.92" y1="147.55" x2="368.92" y2="204.96" stroke="#111" stroke-width="0.8"/>
<line x1="367.42" y1="147.55" x2="370.42" y2="147.55" stroke="#111" stroke-width="0.8"/>
<line x1="367.42" y1="204.96" x2="370.42" y2="204.96" stroke="#111" stroke-width="0.8"/>
<text x="361.74" y="261.4" font-size="8.6" text-anchor="end" textLength="25.63" lengthAdjust="spacingAndGlyphs" transform="rotate(-45 361.74 261.4)">AML193</text>
<rect x="379.1" y="192.1" width="5" height="59.8" fill="#a3022e"/>
<rect x="384.05" y="192.1" width="5" height="59.8" fill="#2d4c84"/>
<rect x="389" y="195.69" width="5" height="56.21" fill="#69ad45"/>
<rect x="393.95" y="195.09" width="5" height="56.81" fill="#59286e"/>
<rect x="398.9" y="199.28" width="5" height="52.62" fill="#e9971c"/>
<line x1="386.53" y1="191.8" x2="386.53" y2="192.4" stroke="#111" stroke-width="0.8"/>
<line x1="385.03" y1="191.8" x2="388.03" y2="191.8" stroke="#111" stroke-width="0.8"/>
<line x1="385.03" y1="192.4" x2="388.03" y2="192.4" stroke="#111" stroke-width="0.8"/>
<line x1="391.48" y1="195.39" x2="391.48" y2="195.99" stroke="#111" stroke-width="0.8"/>
<line x1="389.98" y1="195.39" x2="392.98" y2="195.39" stroke="#111" stroke-width="0.8"/>
<line x1="389.98" y1="195.99" x2="392.98" y2="195.99" stroke="#111" stroke-width="0.8"/>
<line x1="396.43" y1="192.1" x2="396.43" y2="198.08" stroke="#111" stroke-width="0.8"/>
<line x1="394.93" y1="192.1" x2="397.93" y2="192.1" stroke="#111" stroke-width="0.8"/>
<line x1="394.93" y1="198.08" x2="397.93" y2="198.08" stroke="#111" stroke-width="0.8"/>
<line x1="401.38" y1="195.69" x2="401.38" y2="202.86" stroke="#111" stroke-width="0.8"/>
<line x1="399.88" y1="195.69" x2="402.88" y2="195.69" stroke="#111" stroke-width="0.8"/>
<line x1="399.88" y1="202.86" x2="402.88" y2="202.86" stroke="#111" stroke-width="0.8"/>
<text x="394.2" y="261.4" font-size="8.6" text-anchor="end" textLength="21.8" lengthAdjust="spacingAndGlyphs" transform="rotate(-45 394.2 261.4)">MV411</text>
<text x="0" y="0" font-size="9.6" text-anchor="middle" transform="translate(27.4 190.3) rotate(-90)" textLength="65.6" lengthAdjust="spacingAndGlyphs">Relative viability</text>
<rect x="413.5" y="158.2" width="4.1" height="4.1" fill="#a3022e"/>
<text x="422.51" y="162.6" font-size="8" textLength="17.76" lengthAdjust="spacingAndGlyphs">shLuc</text>
<rect x="413.5" y="169.8" width="4.1" height="4.1" fill="#2d4c84"/>
<text x="420.82" y="174.2" font-size="8" textLength="35.47" lengthAdjust="spacingAndGlyphs">shIKBKE-#3</text>
<rect x="413.5" y="181.4" width="4.1" height="4.1" fill="#69ad45"/>
<text x="420.82" y="185.8" font-size="8" textLength="35.45" lengthAdjust="spacingAndGlyphs">shIKBKE-#5</text>
<rect x="413.5" y="193" width="4.1" height="4.1" fill="#59286e"/>
<text x="420.82" y="197.4" font-size="8" textLength="33.16" lengthAdjust="spacingAndGlyphs">shTBK1-#5</text>
<rect x="413.5" y="204.6" width="4.1" height="4.1" fill="#e9971c"/>
<text x="420.81" y="209" font-size="8" textLength="33.48" lengthAdjust="spacingAndGlyphs">shTBK1-#8</text>
<line x1="50.5" y1="315.8" x2="50.5" y2="439.1" stroke="#1a1a1a" stroke-width="1.1"/>
<line x1="50" y1="438.6" x2="164.2" y2="438.6" stroke="#1a1a1a" stroke-width="1.1"/>
<line x1="48" y1="438.6" x2="50.5" y2="438.6" stroke="#1a1a1a" stroke-width="1"/>
<text x="41.27" y="441.5" font-size="8.3" textLength="4.02" lengthAdjust="spacingAndGlyphs">0</text>
<line x1="48" y1="426.53" x2="50.5" y2="426.53" stroke="#1a1a1a" stroke-width="1"/>
<text x="41.34" y="429.43" font-size="8.3" textLength="4.02" lengthAdjust="spacingAndGlyphs">1</text>
<line x1="48" y1="414.46" x2="50.5" y2="414.46" stroke="#1a1a1a" stroke-width="1"/>
<text x="41.35" y="417.36" font-size="8.3" textLength="4.02" lengthAdjust="spacingAndGlyphs">2</text>
<line x1="48" y1="402.39" x2="50.5" y2="402.39" stroke="#1a1a1a" stroke-width="1"/>
<text x="41.3" y="405.29" font-size="8.3" textLength="4.02" lengthAdjust="spacingAndGlyphs">3</text>
<line x1="48" y1="390.32" x2="50.5" y2="390.32" stroke="#1a1a1a" stroke-width="1"/>
<text x="41.2" y="393.22" font-size="8.3" textLength="4.02" lengthAdjust="spacingAndGlyphs">4</text>
<line x1="48" y1="378.25" x2="50.5" y2="378.25" stroke="#1a1a1a" stroke-width="1"/>
<text x="41.29" y="381.15" font-size="8.3" textLength="4.02" lengthAdjust="spacingAndGlyphs">5</text>
<line x1="48" y1="366.18" x2="50.5" y2="366.18" stroke="#1a1a1a" stroke-width="1"/>
<text x="41.3" y="369.08" font-size="8.3" textLength="4.02" lengthAdjust="spacingAndGlyphs">6</text>
<line x1="48" y1="354.11" x2="50.5" y2="354.11" stroke="#1a1a1a" stroke-width="1"/>
<text x="41.35" y="357.01" font-size="8.3" textLength="4.02" lengthAdjust="spacingAndGlyphs">7</text>
<line x1="48" y1="342.04" x2="50.5" y2="342.04" stroke="#1a1a1a" stroke-width="1"/>
<text x="41.3" y="344.94" font-size="8.3" textLength="4.02" lengthAdjust="spacingAndGlyphs">8</text>
<line x1="48" y1="329.97" x2="50.5" y2="329.97" stroke="#1a1a1a" stroke-width="1"/>
<text x="41.33" y="332.87" font-size="8.3" textLength="4.02" lengthAdjust="spacingAndGlyphs">9</text>
<line x1="48" y1="317.9" x2="50.5" y2="317.9" stroke="#1a1a1a" stroke-width="1"/>
<text x="37.25" y="320.8" font-size="8.3" textLength="8.03" lengthAdjust="spacingAndGlyphs">10</text>
<line x1="50.5" y1="438.6" x2="50.5" y2="441.3" stroke="#1a1a1a" stroke-width="1"/>
<line x1="87.6" y1="438.6" x2="87.6" y2="441.3" stroke="#1a1a1a" stroke-width="1"/>
<line x1="124.7" y1="438.6" x2="124.7" y2="441.3" stroke="#1a1a1a" stroke-width="1"/>
<line x1="161.8" y1="438.6" x2="161.8" y2="441.3" stroke="#1a1a1a" stroke-width="1"/>
<rect x="54.9" y="426.53" width="5.77" height="12.07" fill="#a3022e"/>
<rect x="60.62" y="409.03" width="5.77" height="29.57" fill="#2d4c84"/>
<rect x="66.34" y="359.78" width="5.77" height="78.82" fill="#69ad45"/>
<rect x="72.06" y="383.32" width="5.77" height="55.28" fill="#59286e"/>
<rect x="77.78" y="392.37" width="5.77" height="46.23" fill="#e9971c"/>
<line x1="63.48" y1="399.98" x2="63.48" y2="418.08" stroke="#111" stroke-width="0.8"/>
<line x1="61.78" y1="399.98" x2="65.18" y2="399.98" stroke="#111" stroke-width="0.8"/>
<line x1="61.78" y1="418.08" x2="65.18" y2="418.08" stroke="#111" stroke-width="0.8"/>
<line x1="69.2" y1="346.14" x2="69.2" y2="373.42" stroke="#111" stroke-width="0.8"/>
<line x1="67.5" y1="346.14" x2="70.9" y2="346.14" stroke="#111" stroke-width="0.8"/>
<line x1="67.5" y1="373.42" x2="70.9" y2="373.42" stroke="#111" stroke-width="0.8"/>
<line x1="74.92" y1="364.85" x2="74.92" y2="401.79" stroke="#111" stroke-width="0.8"/>
<line x1="73.22" y1="364.85" x2="76.62" y2="364.85" stroke="#111" stroke-width="0.8"/>
<line x1="73.22" y1="401.79" x2="76.62" y2="401.79" stroke="#111" stroke-width="0.8"/>
<line x1="80.64" y1="391.77" x2="80.64" y2="392.98" stroke="#111" stroke-width="0.8"/>
<line x1="78.94" y1="391.77" x2="82.34" y2="391.77" stroke="#111" stroke-width="0.8"/>
<line x1="78.94" y1="392.98" x2="82.34" y2="392.98" stroke="#111" stroke-width="0.8"/>
<text x="72.4" y="448" font-size="8.6" text-anchor="end" textLength="28.29" lengthAdjust="spacingAndGlyphs" transform="rotate(-45 72.4 448)">MOLM14</text>
<rect x="92" y="426.53" width="5.77" height="12.07" fill="#a3022e"/>
<rect x="97.72" y="404.08" width="5.77" height="34.52" fill="#2d4c84"/>
<rect x="103.44" y="353.51" width="5.77" height="85.09" fill="#69ad45"/>
<rect x="109.16" y="381.39" width="5.77" height="57.21" fill="#59286e"/>
<rect x="114.88" y="405.05" width="5.77" height="33.55" fill="#e9971c"/>
<line x1="100.58" y1="395.39" x2="100.58" y2="412.77" stroke="#111" stroke-width="0.8"/>
<line x1="98.88" y1="395.39" x2="102.28" y2="395.39" stroke="#111" stroke-width="0.8"/>
<line x1="98.88" y1="412.77" x2="102.28" y2="412.77" stroke="#111" stroke-width="0.8"/>
<line x1="106.3" y1="329.37" x2="106.3" y2="377.65" stroke="#111" stroke-width="0.8"/>
<line x1="104.6" y1="329.37" x2="108" y2="329.37" stroke="#111" stroke-width="0.8"/>
<line x1="104.6" y1="377.65" x2="108" y2="377.65" stroke="#111" stroke-width="0.8"/>
<line x1="112.02" y1="370.65" x2="112.02" y2="392.13" stroke="#111" stroke-width="0.8"/>
<line x1="110.32" y1="370.65" x2="113.72" y2="370.65" stroke="#111" stroke-width="0.8"/>
<line x1="110.32" y1="392.13" x2="113.72" y2="392.13" stroke="#111" stroke-width="0.8"/>
<line x1="117.74" y1="393.7" x2="117.74" y2="416.39" stroke="#111" stroke-width="0.8"/>
<line x1="116.04" y1="393.7" x2="119.44" y2="393.7" stroke="#111" stroke-width="0.8"/>
<line x1="116.04" y1="416.39" x2="119.44" y2="416.39" stroke="#111" stroke-width="0.8"/>
<text x="109.5" y="448" font-size="8.6" text-anchor="end" textLength="30.2" lengthAdjust="spacingAndGlyphs" transform="rotate(-45 109.5 448)">OCIAML5</text>
<rect x="129.1" y="426.53" width="5.77" height="12.07" fill="#a3022e"/>
<rect x="134.82" y="421.1" width="5.77" height="17.5" fill="#2d4c84"/>
<rect x="140.54" y="419.53" width="5.77" height="19.07" fill="#69ad45"/>
<rect x="146.26" y="409.75" width="5.77" height="28.85" fill="#59286e"/>
<rect x="151.98" y="416.15" width="5.77" height="22.45" fill="#e9971c"/>
<line x1="137.68" y1="416.27" x2="137.68" y2="425.93" stroke="#111" stroke-width="0.8"/>
<line x1="135.98" y1="416.27" x2="139.38" y2="416.27" stroke="#111" stroke-width="0.8"/>
<line x1="135.98" y1="425.93" x2="139.38" y2="425.93" stroke="#111" stroke-width="0.8"/>
<line x1="143.4" y1="413.49" x2="143.4" y2="425.56" stroke="#111" stroke-width="0.8"/>
<line x1="141.7" y1="413.49" x2="145.1" y2="413.49" stroke="#111" stroke-width="0.8"/>
<line x1="141.7" y1="425.56" x2="145.1" y2="425.56" stroke="#111" stroke-width="0.8"/>
<line x1="149.12" y1="396.48" x2="149.12" y2="423.03" stroke="#111" stroke-width="0.8"/>
<line x1="147.42" y1="396.48" x2="150.82" y2="396.48" stroke="#111" stroke-width="0.8"/>
<line x1="147.42" y1="423.03" x2="150.82" y2="423.03" stroke="#111" stroke-width="0.8"/>
<line x1="154.84" y1="410.72" x2="154.84" y2="421.58" stroke="#111" stroke-width="0.8"/>
<line x1="153.14" y1="410.72" x2="156.54" y2="410.72" stroke="#111" stroke-width="0.8"/>
<line x1="153.14" y1="421.58" x2="156.54" y2="421.58" stroke="#111" stroke-width="0.8"/>
<text x="146.6" y="448" font-size="8.6" text-anchor="end" textLength="25.23" lengthAdjust="spacingAndGlyphs" transform="rotate(-45 146.6 448)">NOMO1</text>
<text x="0" y="0" font-size="9.6" text-anchor="middle" transform="translate(28.9 376.8) rotate(-90)" textLength="94.2" lengthAdjust="spacingAndGlyphs">Relative apoptotic cells</text>
<rect x="130.3" y="321.9" width="3.9" height="3.9" fill="#a3022e"/>
<text x="137.51" y="326.3" font-size="8" textLength="18.17" lengthAdjust="spacingAndGlyphs">shLuc</text>
<rect x="130.3" y="333.9" width="3.9" height="3.9" fill="#2d4c84"/>
<text x="137.52" y="338.3" font-size="8" textLength="35.06" lengthAdjust="spacingAndGlyphs">shIKBKE-#3</text>
<rect x="130.3" y="345.9" width="3.9" height="3.9" fill="#69ad45"/>
<text x="137.52" y="350.3" font-size="8" textLength="35.05" lengthAdjust="spacingAndGlyphs">shIKBKE-#5</text>
<rect x="130.3" y="357.9" width="3.9" height="3.9" fill="#59286e"/>
<text x="137.52" y="362.3" font-size="8" textLength="32.76" lengthAdjust="spacingAndGlyphs">shTBK1-#5</text>
<rect x="130.3" y="369.9" width="3.9" height="3.9" fill="#e9971c"/>
<text x="137.52" y="374.3" font-size="8" textLength="32.77" lengthAdjust="spacingAndGlyphs">shTBK1-#8</text>
<line x1="243.1" y1="329.8" x2="243.1" y2="438.9" stroke="#1a1a1a" stroke-width="1.1"/>
<line x1="242.6" y1="438.4" x2="394.6" y2="438.4" stroke="#1a1a1a" stroke-width="1.1"/>
<line x1="240.5" y1="438.4" x2="243.1" y2="438.4" stroke="#1a1a1a" stroke-width="1"/>
<text x="233.07" y="441.3" font-size="8.3" textLength="4.02" lengthAdjust="spacingAndGlyphs">0</text>
<line x1="240.5" y1="420.82" x2="243.1" y2="420.82" stroke="#1a1a1a" stroke-width="1"/>
<text x="227.12" y="423.72" font-size="8.3" textLength="10.04" lengthAdjust="spacingAndGlyphs">0.2</text>
<line x1="240.5" y1="403.24" x2="243.1" y2="403.24" stroke="#1a1a1a" stroke-width="1"/>
<text x="226.97" y="406.14" font-size="8.3" textLength="10.04" lengthAdjust="spacingAndGlyphs">0.4</text>
<line x1="240.5" y1="385.66" x2="243.1" y2="385.66" stroke="#1a1a1a" stroke-width="1"/>
<text x="227.08" y="388.56" font-size="8.3" textLength="10.04" lengthAdjust="spacingAndGlyphs">0.6</text>
<line x1="240.5" y1="368.08" x2="243.1" y2="368.08" stroke="#1a1a1a" stroke-width="1"/>
<text x="227.08" y="370.98" font-size="8.3" textLength="10.04" lengthAdjust="spacingAndGlyphs">0.8</text>
<line x1="240.5" y1="350.5" x2="243.1" y2="350.5" stroke="#1a1a1a" stroke-width="1"/>
<text x="233.14" y="353.4" font-size="8.3" textLength="4.02" lengthAdjust="spacingAndGlyphs">1</text>
<line x1="240.5" y1="332.92" x2="243.1" y2="332.92" stroke="#1a1a1a" stroke-width="1"/>
<text x="227.12" y="335.82" font-size="8.3" textLength="10.04" lengthAdjust="spacingAndGlyphs">1.2</text>
<line x1="243.1" y1="438.4" x2="243.1" y2="441" stroke="#1a1a1a" stroke-width="1"/>
<line x1="259.6" y1="438.4" x2="259.6" y2="441" stroke="#1a1a1a" stroke-width="1"/>
<line x1="276.1" y1="438.4" x2="276.1" y2="441" stroke="#1a1a1a" stroke-width="1"/>
<line x1="292.6" y1="438.4" x2="292.6" y2="441" stroke="#1a1a1a" stroke-width="1"/>
<line x1="309.1" y1="438.4" x2="309.1" y2="441" stroke="#1a1a1a" stroke-width="1"/>
<line x1="325.6" y1="438.4" x2="325.6" y2="441" stroke="#1a1a1a" stroke-width="1"/>
<line x1="342.1" y1="438.4" x2="342.1" y2="441" stroke="#1a1a1a" stroke-width="1"/>
<line x1="358.6" y1="438.4" x2="358.6" y2="441" stroke="#1a1a1a" stroke-width="1"/>
<line x1="375.1" y1="438.4" x2="375.1" y2="441" stroke="#1a1a1a" stroke-width="1"/>
<line x1="391.6" y1="438.4" x2="391.6" y2="441" stroke="#1a1a1a" stroke-width="1"/>
<rect x="245.4" y="350.5" width="3.13" height="87.9" fill="#a3022e" stroke="#2a1020" stroke-width="0.35"/>
<rect x="248.53" y="350.5" width="3.13" height="87.9" fill="#2d4c84" stroke="#2a1020" stroke-width="0.35"/>
<rect x="251.66" y="350.5" width="3.13" height="87.9" fill="#69ad45" stroke="#2a1020" stroke-width="0.35"/>
<rect x="254.79" y="350.5" width="3.13" height="87.9" fill="#59286e" stroke="#2a1020" stroke-width="0.35"/>
<line x1="246.97" y1="350.5" x2="246.97" y2="350.5" stroke="#111" stroke-width="0.8"/>
<line x1="245.47" y1="350.5" x2="248.47" y2="350.5" stroke="#111" stroke-width="0.8"/>
<line x1="245.47" y1="350.5" x2="248.47" y2="350.5" stroke="#111" stroke-width="0.8"/>
<line x1="250.09" y1="350.5" x2="250.09" y2="350.5" stroke="#111" stroke-width="0.8"/>
<line x1="248.59" y1="350.5" x2="251.59" y2="350.5" stroke="#111" stroke-width="0.8"/>
<line x1="248.59" y1="350.5" x2="251.59" y2="350.5" stroke="#111" stroke-width="0.8"/>
<line x1="253.22" y1="350.5" x2="253.22" y2="350.5" stroke="#111" stroke-width="0.8"/>
<line x1="251.72" y1="350.5" x2="254.72" y2="350.5" stroke="#111" stroke-width="0.8"/>
<line x1="251.72" y1="350.5" x2="254.72" y2="350.5" stroke="#111" stroke-width="0.8"/>
<line x1="256.36" y1="350.5" x2="256.36" y2="350.5" stroke="#111" stroke-width="0.8"/>
<line x1="254.86" y1="350.5" x2="257.86" y2="350.5" stroke="#111" stroke-width="0.8"/>
<line x1="254.86" y1="350.5" x2="257.86" y2="350.5" stroke="#111" stroke-width="0.8"/>
<text x="255.7" y="448.4" font-size="8.6" text-anchor="end" textLength="20.64" lengthAdjust="spacingAndGlyphs" transform="rotate(-45 255.7 448.4)">DMSO</text>
<rect x="261.9" y="400.6" width="3.13" height="37.8" fill="#a3022e" stroke="#2a1020" stroke-width="0.35"/>
<rect x="265.03" y="401.04" width="3.13" height="37.36" fill="#2d4c84" stroke="#2a1020" stroke-width="0.35"/>
<rect x="268.16" y="401.48" width="3.13" height="36.92" fill="#69ad45" stroke="#2a1020" stroke-width="0.35"/>
<rect x="271.29" y="398.84" width="3.13" height="39.56" fill="#59286e" stroke="#2a1020" stroke-width="0.35"/>
<line x1="263.47" y1="400.16" x2="263.47" y2="401.04" stroke="#111" stroke-width="0.8"/>
<line x1="261.97" y1="400.16" x2="264.97" y2="400.16" stroke="#111" stroke-width="0.8"/>
<line x1="261.97" y1="401.04" x2="264.97" y2="401.04" stroke="#111" stroke-width="0.8"/>
<line x1="266.6" y1="400.6" x2="266.6" y2="401.48" stroke="#111" stroke-width="0.8"/>
<line x1="265.1" y1="400.6" x2="268.1" y2="400.6" stroke="#111" stroke-width="0.8"/>
<line x1="265.1" y1="401.48" x2="268.1" y2="401.48" stroke="#111" stroke-width="0.8"/>
<line x1="269.73" y1="391.2" x2="269.73" y2="411.77" stroke="#111" stroke-width="0.8"/>
<line x1="268.23" y1="391.2" x2="271.23" y2="391.2" stroke="#111" stroke-width="0.8"/>
<line x1="268.23" y1="411.77" x2="271.23" y2="411.77" stroke="#111" stroke-width="0.8"/>
<line x1="272.86" y1="392.52" x2="272.86" y2="405.17" stroke="#111" stroke-width="0.8"/>
<line x1="271.36" y1="392.52" x2="274.36" y2="392.52" stroke="#111" stroke-width="0.8"/>
<line x1="271.36" y1="405.17" x2="274.36" y2="405.17" stroke="#111" stroke-width="0.8"/>
<text x="272.2" y="448.4" font-size="8.6" text-anchor="end" textLength="17.22" lengthAdjust="spacingAndGlyphs" transform="rotate(-45 272.2 448.4)">0.625</text>
<rect x="278.4" y="433.13" width="3.13" height="5.27" fill="#a3022e" stroke="#2a1020" stroke-width="0.35"/>
<rect x="281.53" y="429.61" width="3.13" height="8.79" fill="#2d4c84" stroke="#2a1020" stroke-width="0.35"/>
<rect x="284.66" y="415.55" width="3.13" height="22.85" fill="#69ad45" stroke="#2a1020" stroke-width="0.35"/>
<rect x="287.79" y="414.67" width="3.13" height="23.73" fill="#59286e" stroke="#2a1020" stroke-width="0.35"/>
<line x1="279.97" y1="432.69" x2="279.97" y2="433.57" stroke="#111" stroke-width="0.8"/>
<line x1="278.47" y1="432.69" x2="281.47" y2="432.69" stroke="#111" stroke-width="0.8"/>
<line x1="278.47" y1="433.57" x2="281.47" y2="433.57" stroke="#111" stroke-width="0.8"/>
<line x1="283.1" y1="427.85" x2="283.1" y2="431.37" stroke="#111" stroke-width="0.8"/>
<line x1="281.6" y1="427.85" x2="284.6" y2="427.85" stroke="#111" stroke-width="0.8"/>
<line x1="281.6" y1="431.37" x2="284.6" y2="431.37" stroke="#111" stroke-width="0.8"/>
<line x1="286.23" y1="404.65" x2="286.23" y2="426.45" stroke="#111" stroke-width="0.8"/>
<line x1="284.73" y1="404.65" x2="287.73" y2="404.65" stroke="#111" stroke-width="0.8"/>
<line x1="284.73" y1="426.45" x2="287.73" y2="426.45" stroke="#111" stroke-width="0.8"/>
<line x1="289.36" y1="408.6" x2="289.36" y2="420.73" stroke="#111" stroke-width="0.8"/>
<line x1="287.86" y1="408.6" x2="290.86" y2="408.6" stroke="#111" stroke-width="0.8"/>
<line x1="287.86" y1="420.73" x2="290.86" y2="420.73" stroke="#111" stroke-width="0.8"/>
<text x="288.7" y="448.4" font-size="8.6" text-anchor="end" textLength="13.39" lengthAdjust="spacingAndGlyphs" transform="rotate(-45 288.7 448.4)">1.25</text>
<rect x="294.9" y="434.88" width="3.13" height="3.52" fill="#a3022e" stroke="#2a1020" stroke-width="0.35"/>
<rect x="298.03" y="436.2" width="3.13" height="2.2" fill="#2d4c84" stroke="#2a1020" stroke-width="0.35"/>
<rect x="301.16" y="425.21" width="3.13" height="13.19" fill="#69ad45" stroke="#2a1020" stroke-width="0.35"/>
<rect x="304.29" y="424.34" width="3.13" height="14.06" fill="#59286e" stroke="#2a1020" stroke-width="0.35"/>
<line x1="296.47" y1="434.44" x2="296.47" y2="435.32" stroke="#111" stroke-width="0.8"/>
<line x1="294.97" y1="434.44" x2="297.97" y2="434.44" stroke="#111" stroke-width="0.8"/>
<line x1="294.97" y1="435.32" x2="297.97" y2="435.32" stroke="#111" stroke-width="0.8"/>
<line x1="299.6" y1="435.76" x2="299.6" y2="436.64" stroke="#111" stroke-width="0.8"/>
<line x1="298.1" y1="435.76" x2="301.1" y2="435.76" stroke="#111" stroke-width="0.8"/>
<line x1="298.1" y1="436.64" x2="301.1" y2="436.64" stroke="#111" stroke-width="0.8"/>
<line x1="302.73" y1="415.02" x2="302.73" y2="435.41" stroke="#111" stroke-width="0.8"/>
<line x1="301.23" y1="415.02" x2="304.23" y2="415.02" stroke="#111" stroke-width="0.8"/>
<line x1="301.23" y1="435.41" x2="304.23" y2="435.41" stroke="#111" stroke-width="0.8"/>
<line x1="305.86" y1="416.78" x2="305.86" y2="431.9" stroke="#111" stroke-width="0.8"/>
<line x1="304.36" y1="416.78" x2="307.36" y2="416.78" stroke="#111" stroke-width="0.8"/>
<line x1="304.36" y1="431.9" x2="307.36" y2="431.9" stroke="#111" stroke-width="0.8"/>
<text x="305.2" y="448.4" font-size="8.6" text-anchor="end" textLength="9.56" lengthAdjust="spacingAndGlyphs" transform="rotate(-45 305.2 448.4)">2.5</text>
<rect x="311.4" y="435.76" width="3.13" height="2.64" fill="#a3022e" stroke="#2a1020" stroke-width="0.35"/>
<rect x="314.53" y="437.52" width="3.13" height="0.88" fill="#2d4c84" stroke="#2a1020" stroke-width="0.35"/>
<rect x="317.66" y="434.44" width="3.13" height="3.96" fill="#69ad45" stroke="#2a1020" stroke-width="0.35"/>
<rect x="320.79" y="430.93" width="3.13" height="7.47" fill="#59286e" stroke="#2a1020" stroke-width="0.35"/>
<line x1="312.97" y1="435.32" x2="312.97" y2="436.2" stroke="#111" stroke-width="0.8"/>
<line x1="311.47" y1="435.32" x2="314.47" y2="435.32" stroke="#111" stroke-width="0.8"/>
<line x1="311.47" y1="436.2" x2="314.47" y2="436.2" stroke="#111" stroke-width="0.8"/>
<line x1="316.1" y1="437.08" x2="316.1" y2="437.96" stroke="#111" stroke-width="0.8"/>
<line x1="314.6" y1="437.08" x2="317.6" y2="437.08" stroke="#111" stroke-width="0.8"/>
<line x1="314.6" y1="437.96" x2="317.6" y2="437.96" stroke="#111" stroke-width="0.8"/>
<line x1="319.23" y1="431.81" x2="319.23" y2="437.08" stroke="#111" stroke-width="0.8"/>
<line x1="317.73" y1="431.81" x2="320.73" y2="431.81" stroke="#111" stroke-width="0.8"/>
<line x1="317.73" y1="437.08" x2="320.73" y2="437.08" stroke="#111" stroke-width="0.8"/>
<line x1="322.36" y1="425.65" x2="322.36" y2="436.2" stroke="#111" stroke-width="0.8"/>
<line x1="320.86" y1="425.65" x2="323.86" y2="425.65" stroke="#111" stroke-width="0.8"/>
<line x1="320.86" y1="436.2" x2="323.86" y2="436.2" stroke="#111" stroke-width="0.8"/>
<text x="321.7" y="448.4" font-size="8.6" text-anchor="end" textLength="3.83" lengthAdjust="spacingAndGlyphs" transform="rotate(-45 321.7 448.4)">5</text>
<rect x="327.9" y="352.7" width="3.13" height="85.7" fill="#a3022e" stroke="#2a1020" stroke-width="0.35"/>
<rect x="331.03" y="347.51" width="3.13" height="90.89" fill="#2d4c84" stroke="#2a1020" stroke-width="0.35"/>
<rect x="334.16" y="370.28" width="3.13" height="68.12" fill="#69ad45" stroke="#2a1020" stroke-width="0.35"/>
<rect x="337.29" y="352.7" width="3.13" height="85.7" fill="#59286e" stroke="#2a1020" stroke-width="0.35"/>
<line x1="329.47" y1="351.38" x2="329.47" y2="354.02" stroke="#111" stroke-width="0.8"/>
<line x1="327.97" y1="351.38" x2="330.97" y2="351.38" stroke="#111" stroke-width="0.8"/>
<line x1="327.97" y1="354.02" x2="330.97" y2="354.02" stroke="#111" stroke-width="0.8"/>
<line x1="332.6" y1="344.61" x2="332.6" y2="350.41" stroke="#111" stroke-width="0.8"/>
<line x1="331.1" y1="344.61" x2="334.1" y2="344.61" stroke="#111" stroke-width="0.8"/>
<line x1="331.1" y1="350.41" x2="334.1" y2="350.41" stroke="#111" stroke-width="0.8"/>
<line x1="335.73" y1="354.1" x2="335.73" y2="386.45" stroke="#111" stroke-width="0.8"/>
<line x1="334.23" y1="354.1" x2="337.23" y2="354.1" stroke="#111" stroke-width="0.8"/>
<line x1="334.23" y1="386.45" x2="337.23" y2="386.45" stroke="#111" stroke-width="0.8"/>
<line x1="338.86" y1="350.06" x2="338.86" y2="355.33" stroke="#111" stroke-width="0.8"/>
<line x1="337.36" y1="350.06" x2="340.36" y2="350.06" stroke="#111" stroke-width="0.8"/>
<line x1="337.36" y1="355.33" x2="340.36" y2="355.33" stroke="#111" stroke-width="0.8"/>
<text x="338.2" y="448.4" font-size="8.6" text-anchor="end" textLength="17.22" lengthAdjust="spacingAndGlyphs" transform="rotate(-45 338.2 448.4)">0.625</text>
<rect x="344.4" y="357.53" width="3.13" height="80.87" fill="#a3022e" stroke="#2a1020" stroke-width="0.35"/>
<rect x="347.53" y="348.74" width="3.13" height="89.66" fill="#2d4c84" stroke="#2a1020" stroke-width="0.35"/>
<rect x="350.66" y="375.11" width="3.13" height="63.29" fill="#69ad45" stroke="#2a1020" stroke-width="0.35"/>
<rect x="353.79" y="354.02" width="3.13" height="84.38" fill="#59286e" stroke="#2a1020" stroke-width="0.35"/>
<line x1="345.97" y1="355.77" x2="345.97" y2="359.29" stroke="#111" stroke-width="0.8"/>
<line x1="344.47" y1="355.77" x2="347.47" y2="355.77" stroke="#111" stroke-width="0.8"/>
<line x1="344.47" y1="359.29" x2="347.47" y2="359.29" stroke="#111" stroke-width="0.8"/>
<line x1="349.1" y1="343.91" x2="349.1" y2="353.58" stroke="#111" stroke-width="0.8"/>
<line x1="347.6" y1="343.91" x2="350.6" y2="343.91" stroke="#111" stroke-width="0.8"/>
<line x1="347.6" y1="353.58" x2="350.6" y2="353.58" stroke="#111" stroke-width="0.8"/>
<line x1="352.23" y1="361.49" x2="352.23" y2="388.74" stroke="#111" stroke-width="0.8"/>
<line x1="350.73" y1="361.49" x2="353.73" y2="361.49" stroke="#111" stroke-width="0.8"/>
<line x1="350.73" y1="388.74" x2="353.73" y2="388.74" stroke="#111" stroke-width="0.8"/>
<line x1="355.36" y1="352.26" x2="355.36" y2="355.77" stroke="#111" stroke-width="0.8"/>
<line x1="353.86" y1="352.26" x2="356.86" y2="352.26" stroke="#111" stroke-width="0.8"/>
<line x1="353.86" y1="355.77" x2="356.86" y2="355.77" stroke="#111" stroke-width="0.8"/>
<text x="354.7" y="448.4" font-size="8.6" text-anchor="end" textLength="13.39" lengthAdjust="spacingAndGlyphs" transform="rotate(-45 354.7 448.4)">1.25</text>
<rect x="360.9" y="364.56" width="3.13" height="73.84" fill="#a3022e" stroke="#2a1020" stroke-width="0.35"/>
<rect x="364.03" y="358.41" width="3.13" height="79.99" fill="#2d4c84" stroke="#2a1020" stroke-width="0.35"/>
<rect x="367.16" y="381.26" width="3.13" height="57.14" fill="#69ad45" stroke="#2a1020" stroke-width="0.35"/>
<rect x="370.29" y="360.17" width="3.13" height="78.23" fill="#59286e" stroke="#2a1020" stroke-width="0.35"/>
<line x1="362.47" y1="364.12" x2="362.47" y2="365" stroke="#111" stroke-width="0.8"/>
<line x1="360.97" y1="364.12" x2="363.97" y2="364.12" stroke="#111" stroke-width="0.8"/>
<line x1="360.97" y1="365" x2="363.97" y2="365" stroke="#111" stroke-width="0.8"/>
<line x1="365.6" y1="355.77" x2="365.6" y2="361.05" stroke="#111" stroke-width="0.8"/>
<line x1="364.1" y1="355.77" x2="367.1" y2="355.77" stroke="#111" stroke-width="0.8"/>
<line x1="364.1" y1="361.05" x2="367.1" y2="361.05" stroke="#111" stroke-width="0.8"/>
<line x1="368.73" y1="371.6" x2="368.73" y2="390.93" stroke="#111" stroke-width="0.8"/>
<line x1="367.23" y1="371.6" x2="370.23" y2="371.6" stroke="#111" stroke-width="0.8"/>
<line x1="367.23" y1="390.93" x2="370.23" y2="390.93" stroke="#111" stroke-width="0.8"/>
<line x1="371.86" y1="354.02" x2="371.86" y2="366.32" stroke="#111" stroke-width="0.8"/>
<line x1="370.36" y1="354.02" x2="373.36" y2="354.02" stroke="#111" stroke-width="0.8"/>
<line x1="370.36" y1="366.32" x2="373.36" y2="366.32" stroke="#111" stroke-width="0.8"/>
<text x="371.2" y="448.4" font-size="8.6" text-anchor="end" textLength="9.56" lengthAdjust="spacingAndGlyphs" transform="rotate(-45 371.2 448.4)">2.5</text>
<rect x="377.4" y="385.66" width="3.13" height="52.74" fill="#a3022e" stroke="#2a1020" stroke-width="0.35"/>
<rect x="380.53" y="361.31" width="3.13" height="77.09" fill="#2d4c84" stroke="#2a1020" stroke-width="0.35"/>
<rect x="383.66" y="390.41" width="3.13" height="47.99" fill="#69ad45" stroke="#2a1020" stroke-width="0.35"/>
<rect x="386.79" y="371.6" width="3.13" height="66.8" fill="#59286e" stroke="#2a1020" stroke-width="0.35"/>
<line x1="378.97" y1="383.9" x2="378.97" y2="387.42" stroke="#111" stroke-width="0.8"/>
<line x1="377.47" y1="383.9" x2="380.47" y2="383.9" stroke="#111" stroke-width="0.8"/>
<line x1="377.47" y1="387.42" x2="380.47" y2="387.42" stroke="#111" stroke-width="0.8"/>
<line x1="382.1" y1="360.43" x2="382.1" y2="362.19" stroke="#111" stroke-width="0.8"/>
<line x1="380.6" y1="360.43" x2="383.6" y2="360.43" stroke="#111" stroke-width="0.8"/>
<line x1="380.6" y1="362.19" x2="383.6" y2="362.19" stroke="#111" stroke-width="0.8"/>
<line x1="385.23" y1="384.61" x2="385.23" y2="396.21" stroke="#111" stroke-width="0.8"/>
<line x1="383.73" y1="384.61" x2="386.73" y2="384.61" stroke="#111" stroke-width="0.8"/>
<line x1="383.73" y1="396.21" x2="386.73" y2="396.21" stroke="#111" stroke-width="0.8"/>
<line x1="388.36" y1="363.95" x2="388.36" y2="379.24" stroke="#111" stroke-width="0.8"/>
<line x1="386.86" y1="363.95" x2="389.86" y2="363.95" stroke="#111" stroke-width="0.8"/>
<line x1="386.86" y1="379.24" x2="389.86" y2="379.24" stroke="#111" stroke-width="0.8"/>
<text x="387.7" y="448.4" font-size="8.6" text-anchor="end" textLength="3.83" lengthAdjust="spacingAndGlyphs" transform="rotate(-45 387.7 448.4)">5</text>
<line x1="257.7" y1="470.1" x2="319.6" y2="470.1" stroke="#333" stroke-width="1.1"/>
<line x1="325.6" y1="470.1" x2="390.4" y2="470.1" stroke="#333" stroke-width="1.1"/>
<text x="257.34" y="480.3" font-size="8" textLength="62.36" lengthAdjust="spacingAndGlyphs">Momelotinib (&#956;M)</text>
<text x="331.04" y="480.4" font-size="8" textLength="54.06" lengthAdjust="spacingAndGlyphs">Ruxolitinib(&#956;M)</text>
<text x="0" y="0" font-size="9.6" text-anchor="middle" transform="translate(220 384.1) rotate(-90)" textLength="66" lengthAdjust="spacingAndGlyphs">Relative viability</text>
<rect x="398.5" y="372.3" width="3.9" height="3.9" fill="#a3022e"/>
<text x="405.21" y="376.7" font-size="8" textLength="29.71" lengthAdjust="spacingAndGlyphs">MOLM13</text>
<rect x="398.5" y="384.4" width="3.9" height="3.9" fill="#2d4c84"/>
<text x="405.21" y="388.8" font-size="8" textLength="29.6" lengthAdjust="spacingAndGlyphs">MOLM14</text>
<rect x="398.5" y="396.5" width="3.9" height="3.9" fill="#69ad45"/>
<text x="405.47" y="400.9" font-size="8" textLength="32.52" lengthAdjust="spacingAndGlyphs">OCI-AML5</text>
<rect x="398.5" y="408.6" width="3.9" height="3.9" fill="#59286e"/>
<text x="405.24" y="413" font-size="8" textLength="31.99" lengthAdjust="spacingAndGlyphs">KASUMI-1</text>
<line x1="50.6" y1="519.8" x2="50.6" y2="606.5" stroke="#1a1a1a" stroke-width="1.1"/>
<line x1="48.5" y1="606" x2="175.8" y2="606" stroke="#1a1a1a" stroke-width="1.1"/>
<line x1="48" y1="606" x2="50.6" y2="606" stroke="#1a1a1a" stroke-width="1"/>
<text x="40.67" y="609" font-size="8.3" textLength="4.02" lengthAdjust="spacingAndGlyphs">0</text>
<line x1="48" y1="578.1" x2="50.6" y2="578.1" stroke="#1a1a1a" stroke-width="1"/>
<text x="40.74" y="581.1" font-size="8.3" textLength="4.02" lengthAdjust="spacingAndGlyphs">1</text>
<line x1="48" y1="550.2" x2="50.6" y2="550.2" stroke="#1a1a1a" stroke-width="1"/>
<text x="40.75" y="553.2" font-size="8.3" textLength="4.02" lengthAdjust="spacingAndGlyphs">2</text>
<line x1="48" y1="522.3" x2="50.6" y2="522.3" stroke="#1a1a1a" stroke-width="1"/>
<text x="40.7" y="525.3" font-size="8.3" textLength="4.02" lengthAdjust="spacingAndGlyphs">3</text>
<line x1="81.9" y1="606" x2="81.9" y2="608.6" stroke="#1a1a1a" stroke-width="1"/>
<line x1="144.2" y1="606" x2="144.2" y2="608.6" stroke="#1a1a1a" stroke-width="1"/>
<rect x="58.7" y="577.82" width="12.8" height="28.18" fill="#a3022e"/>
<rect x="76" y="565.41" width="12.8" height="40.59" fill="#2d4c84"/>
<line x1="82.4" y1="565.91" x2="82.4" y2="564.15" stroke="#5a5a5a" stroke-width="2"/>
<line x1="79.4" y1="564.15" x2="85.4" y2="564.15" stroke="#3a3a3a" stroke-width="1.5"/>
<rect x="93" y="538.76" width="12.8" height="67.24" fill="#69ad45"/>
<line x1="99.4" y1="539.26" x2="99.4" y2="527.88" stroke="#5a5a5a" stroke-width="2"/>
<line x1="96.4" y1="527.88" x2="102.4" y2="527.88" stroke="#3a3a3a" stroke-width="1.5"/>
<rect x="121.5" y="578.1" width="12.8" height="27.9" fill="#a3022e"/>
<rect x="138.5" y="577.82" width="12.8" height="28.18" fill="#2d4c84"/>
<line x1="144.9" y1="578.32" x2="144.9" y2="576.43" stroke="#5a5a5a" stroke-width="2"/>
<line x1="141.9" y1="576.43" x2="147.9" y2="576.43" stroke="#3a3a3a" stroke-width="1.5"/>
<rect x="155" y="554.11" width="12.8" height="51.89" fill="#69ad45"/>
<line x1="161.4" y1="554.61" x2="161.4" y2="552.85" stroke="#5a5a5a" stroke-width="2"/>
<line x1="158.4" y1="552.85" x2="164.4" y2="552.85" stroke="#3a3a3a" stroke-width="1.5"/>
<circle cx="95.7" cy="523.9" r="1.05" fill="#222"/>
<circle cx="98.8" cy="523.9" r="1.05" fill="#222"/>
<circle cx="101.9" cy="523.9" r="1.05" fill="#222"/>
<circle cx="157.9" cy="548.9" r="1.05" fill="#222"/>
<circle cx="160.9" cy="548.9" r="1.05" fill="#222"/>
<circle cx="164.1" cy="548.9" r="1.05" fill="#222"/>
<rect x="121.5" y="509.4" width="10.2" height="5.8" fill="#a3022e"/>
<text x="134.28" y="514.9" font-size="8.3" textLength="12.95" lengthAdjust="spacingAndGlyphs">GFP</text>
<rect x="121.5" y="520.95" width="10.2" height="5.8" fill="#2d4c84"/>
<text x="134.01" y="526.45" font-size="8.3" textLength="40.25" lengthAdjust="spacingAndGlyphs">Kinase-dead</text>
<rect x="121.5" y="532.5" width="10.2" height="5.8" fill="#69ad45"/>
<text x="134.01" y="538" font-size="8.3" textLength="18.97" lengthAdjust="spacingAndGlyphs">IKBKE</text>
<text x="65.76" y="619.6" font-size="8.3" textLength="31.97" lengthAdjust="spacingAndGlyphs">MOLM14</text>
<text x="128.46" y="619.6" font-size="8.3" textLength="31.85" lengthAdjust="spacingAndGlyphs">OCIAML5</text>
<text x="0" y="0" font-size="9.6" text-anchor="middle" transform="translate(33.6 562.6) rotate(-90)" textLength="66.2" lengthAdjust="spacingAndGlyphs">Relative viability</text>
<text x="96.08" y="636.1" font-size="8.3" textLength="25.66" lengthAdjust="spacingAndGlyphs">Kinase-</text>
<text x="96.38" y="646.6" font-size="8.3" textLength="17.12" lengthAdjust="spacingAndGlyphs">dead</text>
<text x="74.56" y="649.2" font-size="8.3" textLength="14" lengthAdjust="spacingAndGlyphs">GFP</text>
<text x="120.77" y="649.2" font-size="8.3" textLength="20.02" lengthAdjust="spacingAndGlyphs">IKBKE</text>
<text x="50.38" y="656.8" font-size="8.3" textLength="19.91" lengthAdjust="spacingAndGlyphs">IKBKE</text>
<text x="53.08" y="666.1" font-size="8.3" textLength="17.42" lengthAdjust="spacingAndGlyphs">Actin</text>
<rect x="73.8" y="651.8" width="63.8" height="10.8" fill="#949494"/>
<rect x="96" y="651.8" width="2.4" height="9.5" fill="#e6e6e6" filter="url(#bl05)"/>
<rect x="117.6" y="651.8" width="2.4" height="9.5" fill="#e6e6e6" filter="url(#bl05)"/>
<rect x="75.5" y="656.7" width="19" height="4.6" rx="2.3" fill="#c6c6c6" opacity="1" filter="url(#bl1)"/>
<rect x="97.85" y="655.4" width="19.5" height="6" rx="2.5" fill="#1e1e1e" opacity="1" filter="url(#bl07)"/>
<rect x="102.6" y="657.7" width="10" height="2.6" rx="1.3" fill="#707070" opacity="1" filter="url(#bl05)"/>
<rect x="119.4" y="655.4" width="18" height="6" rx="2.5" fill="#0e0e0e" opacity="1" filter="url(#bl07)"/>
<rect x="73.8" y="662.8" width="63.8" height="10.6" fill="#d0d0d0"/>
<rect x="73.8" y="671.4" width="63.8" height="2" fill="#bdbdbd"/>
<rect x="74" y="667" width="22" height="4.4" rx="2.2" fill="#161616" opacity="1" filter="url(#bl07)"/>
<rect x="96" y="667" width="22" height="4.4" rx="2.2" fill="#161616" opacity="1" filter="url(#bl07)"/>
<rect x="118.3" y="667" width="20" height="4.4" rx="2.2" fill="#161616" opacity="1" filter="url(#bl07)"/>
<rect x="73.8" y="651.8" width="63.8" height="21.6" fill="none" stroke="#111" stroke-width="1.1"/>
<line x1="73.8" y1="662.7" x2="137.6" y2="662.7" stroke="#1a1a1a" stroke-width="1.3"/>
<line x1="242.9" y1="510.1" x2="242.9" y2="642.3" stroke="#1a1a1a" stroke-width="1.1"/>
<line x1="242.4" y1="641.8" x2="477.6" y2="641.8" stroke="#1a1a1a" stroke-width="1.1"/>
<line x1="240.3" y1="641.8" x2="242.9" y2="641.8" stroke="#1a1a1a" stroke-width="1"/>
<text x="232.87" y="644.7" font-size="8.3" textLength="4.02" lengthAdjust="spacingAndGlyphs">0</text>
<line x1="240.3" y1="620.32" x2="242.9" y2="620.32" stroke="#1a1a1a" stroke-width="1"/>
<text x="226.92" y="623.22" font-size="8.3" textLength="10.04" lengthAdjust="spacingAndGlyphs">0.2</text>
<line x1="240.3" y1="598.84" x2="242.9" y2="598.84" stroke="#1a1a1a" stroke-width="1"/>
<text x="226.77" y="601.74" font-size="8.3" textLength="10.04" lengthAdjust="spacingAndGlyphs">0.4</text>
<line x1="240.3" y1="577.36" x2="242.9" y2="577.36" stroke="#1a1a1a" stroke-width="1"/>
<text x="226.88" y="580.26" font-size="8.3" textLength="10.04" lengthAdjust="spacingAndGlyphs">0.6</text>
<line x1="240.3" y1="555.88" x2="242.9" y2="555.88" stroke="#1a1a1a" stroke-width="1"/>
<text x="226.88" y="558.78" font-size="8.3" textLength="10.04" lengthAdjust="spacingAndGlyphs">0.8</text>
<line x1="240.3" y1="534.4" x2="242.9" y2="534.4" stroke="#1a1a1a" stroke-width="1"/>
<text x="232.94" y="537.3" font-size="8.3" textLength="4.02" lengthAdjust="spacingAndGlyphs">1</text>
<line x1="240.3" y1="512.92" x2="242.9" y2="512.92" stroke="#1a1a1a" stroke-width="1"/>
<text x="226.92" y="515.82" font-size="8.3" textLength="10.04" lengthAdjust="spacingAndGlyphs">1.2</text>
<line x1="243.3" y1="641.8" x2="243.3" y2="644.3" stroke="#1a1a1a" stroke-width="1"/>
<line x1="264.3" y1="641.8" x2="264.3" y2="644.3" stroke="#1a1a1a" stroke-width="1"/>
<line x1="285.3" y1="641.8" x2="285.3" y2="644.3" stroke="#1a1a1a" stroke-width="1"/>
<line x1="306.3" y1="641.8" x2="306.3" y2="644.3" stroke="#1a1a1a" stroke-width="1"/>
<line x1="327.3" y1="641.8" x2="327.3" y2="644.3" stroke="#1a1a1a" stroke-width="1"/>
<line x1="348.3" y1="641.8" x2="348.3" y2="644.3" stroke="#1a1a1a" stroke-width="1"/>
<line x1="369.3" y1="641.8" x2="369.3" y2="644.3" stroke="#1a1a1a" stroke-width="1"/>
<line x1="390.3" y1="641.8" x2="390.3" y2="644.3" stroke="#1a1a1a" stroke-width="1"/>
<line x1="411.3" y1="641.8" x2="411.3" y2="644.3" stroke="#1a1a1a" stroke-width="1"/>
<line x1="432.3" y1="641.8" x2="432.3" y2="644.3" stroke="#1a1a1a" stroke-width="1"/>
<line x1="453.3" y1="641.8" x2="453.3" y2="644.3" stroke="#1a1a1a" stroke-width="1"/>
<line x1="474.3" y1="641.8" x2="474.3" y2="644.3" stroke="#1a1a1a" stroke-width="1"/>
<text x="246.4" y="515.5" font-size="8" textLength="33.97" lengthAdjust="spacingAndGlyphs">IC50 (&#956;M)</text>
<rect x="245.5" y="534.4" width="3.44" height="107.4" fill="#a3022e"/>
<rect x="248.9" y="595.62" width="3.44" height="46.18" fill="#2d4c84"/>
<rect x="252.3" y="631.92" width="3.44" height="9.88" fill="#69ad45"/>
<rect x="255.7" y="639.12" width="3.44" height="2.69" fill="#59286e"/>
<rect x="259.1" y="640.73" width="3.44" height="1.07" fill="#e9971c"/>
<line x1="250.6" y1="595.08" x2="250.6" y2="596.15" stroke="#111" stroke-width="0.8"/>
<line x1="249.3" y1="595.08" x2="251.9" y2="595.08" stroke="#111" stroke-width="0.8"/>
<line x1="249.3" y1="596.15" x2="251.9" y2="596.15" stroke="#111" stroke-width="0.8"/>
<line x1="254" y1="629.77" x2="254" y2="634.07" stroke="#111" stroke-width="0.8"/>
<line x1="252.7" y1="629.77" x2="255.3" y2="629.77" stroke="#111" stroke-width="0.8"/>
<line x1="252.7" y1="634.07" x2="255.3" y2="634.07" stroke="#111" stroke-width="0.8"/>
<line x1="257.4" y1="638.58" x2="257.4" y2="639.65" stroke="#111" stroke-width="0.8"/>
<line x1="256.1" y1="638.58" x2="258.7" y2="638.58" stroke="#111" stroke-width="0.8"/>
<line x1="256.1" y1="639.65" x2="258.7" y2="639.65" stroke="#111" stroke-width="0.8"/>
<line x1="260.8" y1="640.4" x2="260.8" y2="641.05" stroke="#111" stroke-width="0.8"/>
<line x1="259.5" y1="640.4" x2="262.1" y2="640.4" stroke="#111" stroke-width="0.8"/>
<line x1="259.5" y1="641.05" x2="262.1" y2="641.05" stroke="#111" stroke-width="0.8"/>
<text x="246.81" y="528.1" font-size="8" textLength="14.41" lengthAdjust="spacingAndGlyphs">0.56</text>
<text x="257.4" y="652.4" font-size="8.6" text-anchor="end" textLength="28.29" lengthAdjust="spacingAndGlyphs" transform="rotate(-45 257.4 652.4)">MOLM14</text>
<rect x="266.5" y="534.4" width="3.44" height="107.4" fill="#a3022e"/>
<rect x="269.9" y="595.62" width="3.44" height="46.18" fill="#2d4c84"/>
<rect x="273.3" y="635.14" width="3.44" height="6.66" fill="#69ad45"/>
<rect x="276.7" y="637.29" width="3.44" height="4.51" fill="#59286e"/>
<rect x="280.1" y="638.9" width="3.44" height="2.9" fill="#e9971c"/>
<line x1="271.6" y1="593.47" x2="271.6" y2="597.77" stroke="#111" stroke-width="0.8"/>
<line x1="270.3" y1="593.47" x2="272.9" y2="593.47" stroke="#111" stroke-width="0.8"/>
<line x1="270.3" y1="597.77" x2="272.9" y2="597.77" stroke="#111" stroke-width="0.8"/>
<line x1="275" y1="634.6" x2="275" y2="635.68" stroke="#111" stroke-width="0.8"/>
<line x1="273.7" y1="634.6" x2="276.3" y2="634.6" stroke="#111" stroke-width="0.8"/>
<line x1="273.7" y1="635.68" x2="276.3" y2="635.68" stroke="#111" stroke-width="0.8"/>
<line x1="278.4" y1="636.75" x2="278.4" y2="637.83" stroke="#111" stroke-width="0.8"/>
<line x1="277.1" y1="636.75" x2="279.7" y2="636.75" stroke="#111" stroke-width="0.8"/>
<line x1="277.1" y1="637.83" x2="279.7" y2="637.83" stroke="#111" stroke-width="0.8"/>
<line x1="281.8" y1="638.36" x2="281.8" y2="639.44" stroke="#111" stroke-width="0.8"/>
<line x1="280.5" y1="638.36" x2="283.1" y2="638.36" stroke="#111" stroke-width="0.8"/>
<line x1="280.5" y1="639.44" x2="283.1" y2="639.44" stroke="#111" stroke-width="0.8"/>
<text x="267.81" y="528.1" font-size="8" textLength="14.46" lengthAdjust="spacingAndGlyphs">0.57</text>
<text x="278.4" y="652.4" font-size="8.6" text-anchor="end" textLength="28.29" lengthAdjust="spacingAndGlyphs" transform="rotate(-45 278.4 652.4)">MOLM13</text>
<rect x="287.5" y="534.4" width="3.44" height="107.4" fill="#a3022e"/>
<rect x="290.9" y="597.01" width="3.44" height="44.79" fill="#2d4c84"/>
<rect x="294.3" y="614.09" width="3.44" height="27.71" fill="#69ad45"/>
<rect x="297.7" y="625.9" width="3.44" height="15.9" fill="#59286e"/>
<rect x="301.1" y="636.75" width="3.44" height="5.05" fill="#e9971c"/>
<line x1="292.6" y1="584.23" x2="292.6" y2="609.79" stroke="#111" stroke-width="0.8"/>
<line x1="291.3" y1="584.23" x2="293.9" y2="584.23" stroke="#111" stroke-width="0.8"/>
<line x1="291.3" y1="609.79" x2="293.9" y2="609.79" stroke="#111" stroke-width="0.8"/>
<line x1="296" y1="600.88" x2="296" y2="627.3" stroke="#111" stroke-width="0.8"/>
<line x1="294.7" y1="600.88" x2="297.3" y2="600.88" stroke="#111" stroke-width="0.8"/>
<line x1="294.7" y1="627.3" x2="297.3" y2="627.3" stroke="#111" stroke-width="0.8"/>
<line x1="299.4" y1="616.02" x2="299.4" y2="635.79" stroke="#111" stroke-width="0.8"/>
<line x1="298.1" y1="616.02" x2="300.7" y2="616.02" stroke="#111" stroke-width="0.8"/>
<line x1="298.1" y1="635.79" x2="300.7" y2="635.79" stroke="#111" stroke-width="0.8"/>
<line x1="302.8" y1="633.53" x2="302.8" y2="639.97" stroke="#111" stroke-width="0.8"/>
<line x1="301.5" y1="633.53" x2="304.1" y2="633.53" stroke="#111" stroke-width="0.8"/>
<line x1="301.5" y1="639.97" x2="304.1" y2="639.97" stroke="#111" stroke-width="0.8"/>
<text x="288.81" y="528.1" font-size="8" textLength="14.41" lengthAdjust="spacingAndGlyphs">0.46</text>
<text x="299.4" y="652.4" font-size="8.6" text-anchor="end" textLength="32.5" lengthAdjust="spacingAndGlyphs" transform="rotate(-45 299.4 652.4)">OCI-AML5</text>
<rect x="308.5" y="534.4" width="3.44" height="107.4" fill="#a3022e"/>
<rect x="311.9" y="593.9" width="3.44" height="47.9" fill="#2d4c84"/>
<rect x="315.3" y="613.02" width="3.44" height="28.78" fill="#69ad45"/>
<rect x="318.7" y="624.08" width="3.44" height="17.72" fill="#59286e"/>
<rect x="322.1" y="632.99" width="3.44" height="8.81" fill="#e9971c"/>
<line x1="313.6" y1="586.06" x2="313.6" y2="601.74" stroke="#111" stroke-width="0.8"/>
<line x1="312.3" y1="586.06" x2="314.9" y2="586.06" stroke="#111" stroke-width="0.8"/>
<line x1="312.3" y1="601.74" x2="314.9" y2="601.74" stroke="#111" stroke-width="0.8"/>
<line x1="317" y1="605.82" x2="317" y2="620.21" stroke="#111" stroke-width="0.8"/>
<line x1="315.7" y1="605.82" x2="318.3" y2="605.82" stroke="#111" stroke-width="0.8"/>
<line x1="315.7" y1="620.21" x2="318.3" y2="620.21" stroke="#111" stroke-width="0.8"/>
<line x1="320.4" y1="615.49" x2="320.4" y2="632.67" stroke="#111" stroke-width="0.8"/>
<line x1="319.1" y1="615.49" x2="321.7" y2="615.49" stroke="#111" stroke-width="0.8"/>
<line x1="319.1" y1="632.67" x2="321.7" y2="632.67" stroke="#111" stroke-width="0.8"/>
<line x1="323.8" y1="626.55" x2="323.8" y2="639.44" stroke="#111" stroke-width="0.8"/>
<line x1="322.5" y1="626.55" x2="325.1" y2="626.55" stroke="#111" stroke-width="0.8"/>
<line x1="322.5" y1="639.44" x2="325.1" y2="639.44" stroke="#111" stroke-width="0.8"/>
<text x="309.81" y="528.1" font-size="8" textLength="14.41" lengthAdjust="spacingAndGlyphs">0.48</text>
<text x="320.4" y="652.4" font-size="8.6" text-anchor="end" textLength="32.5" lengthAdjust="spacingAndGlyphs" transform="rotate(-45 320.4 652.4)">KASUMI-1</text>
<rect x="329.5" y="534.4" width="3.44" height="107.4" fill="#a3022e"/>
<rect x="332.9" y="536.55" width="3.44" height="105.25" fill="#2d4c84"/>
<rect x="336.3" y="580.26" width="3.44" height="61.54" fill="#69ad45"/>
<rect x="339.7" y="640.08" width="3.44" height="1.72" fill="#59286e"/>
<rect x="343.1" y="641.26" width="3.44" height="0.54" fill="#e9971c"/>
<line x1="334.6" y1="534.83" x2="334.6" y2="538.27" stroke="#111" stroke-width="0.8"/>
<line x1="333.3" y1="534.83" x2="335.9" y2="534.83" stroke="#111" stroke-width="0.8"/>
<line x1="333.3" y1="538.27" x2="335.9" y2="538.27" stroke="#111" stroke-width="0.8"/>
<line x1="338" y1="578.97" x2="338" y2="581.55" stroke="#111" stroke-width="0.8"/>
<line x1="336.7" y1="578.97" x2="339.3" y2="578.97" stroke="#111" stroke-width="0.8"/>
<line x1="336.7" y1="581.55" x2="339.3" y2="581.55" stroke="#111" stroke-width="0.8"/>
<line x1="341.4" y1="638.69" x2="341.4" y2="641.48" stroke="#111" stroke-width="0.8"/>
<line x1="340.1" y1="638.69" x2="342.7" y2="638.69" stroke="#111" stroke-width="0.8"/>
<line x1="340.1" y1="641.48" x2="342.7" y2="641.48" stroke="#111" stroke-width="0.8"/>
<line x1="344.8" y1="640.94" x2="344.8" y2="641.59" stroke="#111" stroke-width="0.8"/>
<line x1="343.5" y1="640.94" x2="346.1" y2="640.94" stroke="#111" stroke-width="0.8"/>
<line x1="343.5" y1="641.59" x2="346.1" y2="641.59" stroke="#111" stroke-width="0.8"/>
<text x="330.52" y="528.1" font-size="8" textLength="14.75" lengthAdjust="spacingAndGlyphs">1.31</text>
<text x="341.4" y="652.4" font-size="8.6" text-anchor="end" textLength="26.38" lengthAdjust="spacingAndGlyphs" transform="rotate(-45 341.4 652.4)">MV-4-11</text>
<rect x="350.5" y="534.4" width="3.44" height="107.4" fill="#a3022e"/>
<rect x="353.9" y="570.49" width="3.44" height="71.31" fill="#2d4c84"/>
<rect x="357.3" y="582.3" width="3.44" height="59.5" fill="#69ad45"/>
<rect x="360.7" y="584.88" width="3.44" height="56.92" fill="#59286e"/>
<rect x="364.1" y="583.91" width="3.44" height="57.89" fill="#e9971c"/>
<line x1="355.6" y1="558.67" x2="355.6" y2="582.3" stroke="#111" stroke-width="0.8"/>
<line x1="354.3" y1="558.67" x2="356.9" y2="558.67" stroke="#111" stroke-width="0.8"/>
<line x1="354.3" y1="582.3" x2="356.9" y2="582.3" stroke="#111" stroke-width="0.8"/>
<line x1="359" y1="567.26" x2="359" y2="597.34" stroke="#111" stroke-width="0.8"/>
<line x1="357.7" y1="567.26" x2="360.3" y2="567.26" stroke="#111" stroke-width="0.8"/>
<line x1="357.7" y1="597.34" x2="360.3" y2="597.34" stroke="#111" stroke-width="0.8"/>
<line x1="362.4" y1="563.4" x2="362.4" y2="606.36" stroke="#111" stroke-width="0.8"/>
<line x1="361.1" y1="563.4" x2="363.7" y2="563.4" stroke="#111" stroke-width="0.8"/>
<line x1="361.1" y1="606.36" x2="363.7" y2="606.36" stroke="#111" stroke-width="0.8"/>
<line x1="365.8" y1="557.06" x2="365.8" y2="610.76" stroke="#111" stroke-width="0.8"/>
<line x1="364.5" y1="557.06" x2="367.1" y2="557.06" stroke="#111" stroke-width="0.8"/>
<line x1="364.5" y1="610.76" x2="367.1" y2="610.76" stroke="#111" stroke-width="0.8"/>
<text x="354.37" y="528.1" font-size="8" textLength="9.23" lengthAdjust="spacingAndGlyphs">2.3</text>
<text x="362.4" y="652.4" font-size="8.6" text-anchor="end" textLength="12.24" lengthAdjust="spacingAndGlyphs" transform="rotate(-45 362.4 652.4)">P31</text>
<rect x="371.5" y="534.4" width="3.44" height="107.4" fill="#a3022e"/>
<rect x="374.9" y="576.61" width="3.44" height="65.19" fill="#2d4c84"/>
<rect x="378.3" y="580.26" width="3.44" height="61.54" fill="#69ad45"/>
<rect x="381.7" y="579.29" width="3.44" height="62.51" fill="#59286e"/>
<rect x="385.1" y="584.34" width="3.44" height="57.46" fill="#e9971c"/>
<line x1="376.6" y1="562.65" x2="376.6" y2="590.57" stroke="#111" stroke-width="0.8"/>
<line x1="375.3" y1="562.65" x2="377.9" y2="562.65" stroke="#111" stroke-width="0.8"/>
<line x1="375.3" y1="590.57" x2="377.9" y2="590.57" stroke="#111" stroke-width="0.8"/>
<line x1="380" y1="565.55" x2="380" y2="594.97" stroke="#111" stroke-width="0.8"/>
<line x1="378.7" y1="565.55" x2="381.3" y2="565.55" stroke="#111" stroke-width="0.8"/>
<line x1="378.7" y1="594.97" x2="381.3" y2="594.97" stroke="#111" stroke-width="0.8"/>
<line x1="383.4" y1="563.18" x2="383.4" y2="595.4" stroke="#111" stroke-width="0.8"/>
<line x1="382.1" y1="563.18" x2="384.7" y2="563.18" stroke="#111" stroke-width="0.8"/>
<line x1="382.1" y1="595.4" x2="384.7" y2="595.4" stroke="#111" stroke-width="0.8"/>
<line x1="386.8" y1="568.23" x2="386.8" y2="600.45" stroke="#111" stroke-width="0.8"/>
<line x1="385.5" y1="568.23" x2="388.1" y2="568.23" stroke="#111" stroke-width="0.8"/>
<line x1="385.5" y1="600.45" x2="388.1" y2="600.45" stroke="#111" stroke-width="0.8"/>
<text x="372.52" y="528.1" font-size="8" textLength="14.71" lengthAdjust="spacingAndGlyphs">15.3</text>
<text x="383.4" y="652.4" font-size="8.6" text-anchor="end" textLength="19.5" lengthAdjust="spacingAndGlyphs" transform="rotate(-45 383.4 652.4)">SKNO</text>
<rect x="392.5" y="534.4" width="3.44" height="107.4" fill="#a3022e"/>
<rect x="395.9" y="556.95" width="3.44" height="84.85" fill="#2d4c84"/>
<rect x="399.3" y="580.26" width="3.44" height="61.54" fill="#69ad45"/>
<rect x="402.7" y="594.11" width="3.44" height="47.69" fill="#59286e"/>
<rect x="406.1" y="604.53" width="3.44" height="37.27" fill="#e9971c"/>
<line x1="397.6" y1="549.44" x2="397.6" y2="564.47" stroke="#111" stroke-width="0.8"/>
<line x1="396.3" y1="549.44" x2="398.9" y2="549.44" stroke="#111" stroke-width="0.8"/>
<line x1="396.3" y1="564.47" x2="398.9" y2="564.47" stroke="#111" stroke-width="0.8"/>
<line x1="401" y1="573.6" x2="401" y2="586.92" stroke="#111" stroke-width="0.8"/>
<line x1="399.7" y1="573.6" x2="402.3" y2="573.6" stroke="#111" stroke-width="0.8"/>
<line x1="399.7" y1="586.92" x2="402.3" y2="586.92" stroke="#111" stroke-width="0.8"/>
<line x1="404.4" y1="587.78" x2="404.4" y2="600.45" stroke="#111" stroke-width="0.8"/>
<line x1="403.1" y1="587.78" x2="405.7" y2="587.78" stroke="#111" stroke-width="0.8"/>
<line x1="403.1" y1="600.45" x2="405.7" y2="600.45" stroke="#111" stroke-width="0.8"/>
<line x1="407.8" y1="599.59" x2="407.8" y2="609.47" stroke="#111" stroke-width="0.8"/>
<line x1="406.5" y1="599.59" x2="409.1" y2="599.59" stroke="#111" stroke-width="0.8"/>
<line x1="406.5" y1="609.47" x2="409.1" y2="609.47" stroke="#111" stroke-width="0.8"/>
<text x="396.18" y="528.1" font-size="8" textLength="9.46" lengthAdjust="spacingAndGlyphs">1.7</text>
<text x="404.4" y="652.4" font-size="8.6" text-anchor="end" textLength="19.88" lengthAdjust="spacingAndGlyphs" transform="rotate(-45 404.4 652.4)">KG-1a</text>
<rect x="413.5" y="534.4" width="3.44" height="107.4" fill="#a3022e"/>
<rect x="416.9" y="557.28" width="3.44" height="84.52" fill="#2d4c84"/>
<rect x="420.3" y="575.96" width="3.44" height="65.84" fill="#69ad45"/>
<rect x="423.7" y="586.17" width="3.44" height="55.63" fill="#59286e"/>
<rect x="427.1" y="599.16" width="3.44" height="42.64" fill="#e9971c"/>
<line x1="418.6" y1="551.37" x2="418.6" y2="563.18" stroke="#111" stroke-width="0.8"/>
<line x1="417.3" y1="551.37" x2="419.9" y2="551.37" stroke="#111" stroke-width="0.8"/>
<line x1="417.3" y1="563.18" x2="419.9" y2="563.18" stroke="#111" stroke-width="0.8"/>
<line x1="422" y1="560.28" x2="422" y2="591.64" stroke="#111" stroke-width="0.8"/>
<line x1="420.7" y1="560.28" x2="423.3" y2="560.28" stroke="#111" stroke-width="0.8"/>
<line x1="420.7" y1="591.64" x2="423.3" y2="591.64" stroke="#111" stroke-width="0.8"/>
<line x1="425.4" y1="571.13" x2="425.4" y2="601.2" stroke="#111" stroke-width="0.8"/>
<line x1="424.1" y1="571.13" x2="426.7" y2="571.13" stroke="#111" stroke-width="0.8"/>
<line x1="424.1" y1="601.2" x2="426.7" y2="601.2" stroke="#111" stroke-width="0.8"/>
<line x1="428.8" y1="578.76" x2="428.8" y2="619.57" stroke="#111" stroke-width="0.8"/>
<line x1="427.5" y1="578.76" x2="430.1" y2="578.76" stroke="#111" stroke-width="0.8"/>
<line x1="427.5" y1="619.57" x2="430.1" y2="619.57" stroke="#111" stroke-width="0.8"/>
<text x="414.72" y="528.1" font-size="8" textLength="14.55" lengthAdjust="spacingAndGlyphs">2.92</text>
<text x="425.4" y="652.4" font-size="8.6" text-anchor="end" textLength="25.63" lengthAdjust="spacingAndGlyphs" transform="rotate(-45 425.4 652.4)">AML193</text>
<rect x="434.5" y="534.4" width="3.44" height="107.4" fill="#a3022e"/>
<rect x="437.9" y="538.27" width="3.44" height="103.53" fill="#2d4c84"/>
<rect x="441.3" y="565.22" width="3.44" height="76.58" fill="#69ad45"/>
<rect x="444.7" y="580.9" width="3.44" height="60.9" fill="#59286e"/>
<rect x="448.1" y="597.23" width="3.44" height="44.57" fill="#e9971c"/>
<line x1="439.6" y1="534.83" x2="439.6" y2="541.7" stroke="#111" stroke-width="0.8"/>
<line x1="438.3" y1="534.83" x2="440.9" y2="534.83" stroke="#111" stroke-width="0.8"/>
<line x1="438.3" y1="541.7" x2="440.9" y2="541.7" stroke="#111" stroke-width="0.8"/>
<line x1="443" y1="563.18" x2="443" y2="567.26" stroke="#111" stroke-width="0.8"/>
<line x1="441.7" y1="563.18" x2="444.3" y2="563.18" stroke="#111" stroke-width="0.8"/>
<line x1="441.7" y1="567.26" x2="444.3" y2="567.26" stroke="#111" stroke-width="0.8"/>
<line x1="446.4" y1="579.19" x2="446.4" y2="582.62" stroke="#111" stroke-width="0.8"/>
<line x1="445.1" y1="579.19" x2="447.7" y2="579.19" stroke="#111" stroke-width="0.8"/>
<line x1="445.1" y1="582.62" x2="447.7" y2="582.62" stroke="#111" stroke-width="0.8"/>
<line x1="449.8" y1="594.76" x2="449.8" y2="599.7" stroke="#111" stroke-width="0.8"/>
<line x1="448.5" y1="594.76" x2="451.1" y2="594.76" stroke="#111" stroke-width="0.8"/>
<line x1="448.5" y1="599.7" x2="451.1" y2="599.7" stroke="#111" stroke-width="0.8"/>
<text x="435.82" y="528.1" font-size="8" textLength="14.39" lengthAdjust="spacingAndGlyphs">3.25</text>
<text x="446.4" y="652.4" font-size="8.6" text-anchor="end" textLength="16.45" lengthAdjust="spacingAndGlyphs" transform="rotate(-45 446.4 652.4)">HL60</text>
<rect x="455.5" y="534.4" width="3.44" height="107.4" fill="#a3022e"/>
<rect x="458.9" y="548.15" width="3.44" height="93.65" fill="#2d4c84"/>
<rect x="462.3" y="556.95" width="3.44" height="84.85" fill="#69ad45"/>
<rect x="465.7" y="568.55" width="3.44" height="73.25" fill="#59286e"/>
<rect x="469.1" y="582.3" width="3.44" height="59.5" fill="#e9971c"/>
<line x1="460.6" y1="539.88" x2="460.6" y2="556.42" stroke="#111" stroke-width="0.8"/>
<line x1="459.3" y1="539.88" x2="461.9" y2="539.88" stroke="#111" stroke-width="0.8"/>
<line x1="459.3" y1="556.42" x2="461.9" y2="556.42" stroke="#111" stroke-width="0.8"/>
<line x1="464" y1="554.16" x2="464" y2="559.75" stroke="#111" stroke-width="0.8"/>
<line x1="462.7" y1="554.16" x2="465.3" y2="554.16" stroke="#111" stroke-width="0.8"/>
<line x1="462.7" y1="559.75" x2="465.3" y2="559.75" stroke="#111" stroke-width="0.8"/>
<line x1="467.4" y1="562.22" x2="467.4" y2="574.89" stroke="#111" stroke-width="0.8"/>
<line x1="466.1" y1="562.22" x2="468.7" y2="562.22" stroke="#111" stroke-width="0.8"/>
<line x1="466.1" y1="574.89" x2="468.7" y2="574.89" stroke="#111" stroke-width="0.8"/>
<line x1="470.8" y1="572.96" x2="470.8" y2="591.64" stroke="#111" stroke-width="0.8"/>
<line x1="469.5" y1="572.96" x2="472.1" y2="572.96" stroke="#111" stroke-width="0.8"/>
<line x1="469.5" y1="591.64" x2="472.1" y2="591.64" stroke="#111" stroke-width="0.8"/>
<text x="456.8" y="528.1" font-size="8" textLength="14.42" lengthAdjust="spacingAndGlyphs">5.13</text>
<text x="467.4" y="652.4" font-size="8.6" text-anchor="end" textLength="25.23" lengthAdjust="spacingAndGlyphs" transform="rotate(-45 467.4 652.4)">NOMO1</text>
<text x="0" y="0" font-size="9.6" text-anchor="middle" transform="translate(219.8 575.8) rotate(-90)" textLength="65.8" lengthAdjust="spacingAndGlyphs">Relative viability</text>
<rect x="481.1" y="553.7" width="4.9" height="4.8" fill="#a3022e"/>
<text x="488.72" y="558.8" font-size="8.3" textLength="21.11" lengthAdjust="spacingAndGlyphs">DMSO</text>
<rect x="481.1" y="565.9" width="4.9" height="4.8" fill="#2d4c84"/>
<text x="489.03" y="571" font-size="8.3" textLength="17.47" lengthAdjust="spacingAndGlyphs">0.625</text>
<rect x="481.1" y="578.1" width="4.9" height="4.8" fill="#69ad45"/>
<text x="488.75" y="583.2" font-size="8.3" textLength="13.95" lengthAdjust="spacingAndGlyphs">1.25</text>
<rect x="481.1" y="590.3" width="4.9" height="4.8" fill="#59286e"/>
<text x="488.94" y="595.4" font-size="8.3" textLength="9.85" lengthAdjust="spacingAndGlyphs">2.5</text>
<rect x="481.1" y="602.5" width="4.9" height="4.8" fill="#e9971c"/>
<text x="489" y="607.6" font-size="8.3" textLength="4.22" lengthAdjust="spacingAndGlyphs">5</text>
<rect x="0" y="0" width="520" height="1" fill="#000"/>
<rect x="0" y="0" width="1.3" height="687" fill="#1e1e1e"/>
<rect x="518.5" y="0" width="1.5" height="687" fill="#000"/>
<rect x="0" y="685.5" width="520" height="1.5" fill="#000"/>
</svg></body></html>
